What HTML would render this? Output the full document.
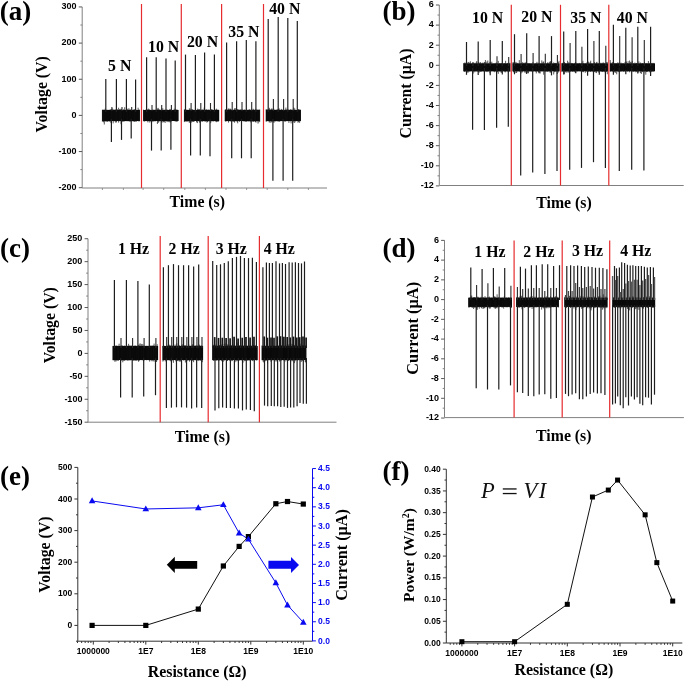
<!DOCTYPE html>
<html><head><meta charset="utf-8"><style>
html,body{margin:0;padding:0;background:#fff;}
body{width:685px;height:681px;overflow:hidden;font-family:"Liberation Sans", sans-serif;}
svg{display:block;will-change:transform;}
</style></head><body>
<svg width="685" height="681" viewBox="0 0 685 681">
<rect width="685" height="681" fill="#fff"/>
<line x1="82.20" y1="6.95" x2="82.20" y2="188.00" stroke="#808080" stroke-width="1" />
<line x1="78.80" y1="6.95" x2="82.20" y2="6.95" stroke="#5a5a5a" stroke-width="1" />
<text x="76.60" y="9.25" font-family="&quot;Liberation Sans&quot;, sans-serif" font-size="9" font-weight="bold" text-anchor="end" fill="#000" >300</text>
<line x1="78.80" y1="43.10" x2="82.20" y2="43.10" stroke="#5a5a5a" stroke-width="1" />
<text x="76.60" y="45.40" font-family="&quot;Liberation Sans&quot;, sans-serif" font-size="9" font-weight="bold" text-anchor="end" fill="#000" >200</text>
<line x1="78.80" y1="79.25" x2="82.20" y2="79.25" stroke="#5a5a5a" stroke-width="1" />
<text x="76.60" y="81.55" font-family="&quot;Liberation Sans&quot;, sans-serif" font-size="9" font-weight="bold" text-anchor="end" fill="#000" >100</text>
<line x1="78.80" y1="115.40" x2="82.20" y2="115.40" stroke="#5a5a5a" stroke-width="1" />
<text x="76.60" y="117.70" font-family="&quot;Liberation Sans&quot;, sans-serif" font-size="9" font-weight="bold" text-anchor="end" fill="#000" >0</text>
<line x1="78.80" y1="151.55" x2="82.20" y2="151.55" stroke="#5a5a5a" stroke-width="1" />
<text x="76.60" y="153.85" font-family="&quot;Liberation Sans&quot;, sans-serif" font-size="9" font-weight="bold" text-anchor="end" fill="#000" >-100</text>
<line x1="78.80" y1="187.70" x2="82.20" y2="187.70" stroke="#5a5a5a" stroke-width="1" />
<text x="76.60" y="190.00" font-family="&quot;Liberation Sans&quot;, sans-serif" font-size="9" font-weight="bold" text-anchor="end" fill="#000" >-200</text>
<line x1="80.40" y1="25.03" x2="82.20" y2="25.03" stroke="#808080" stroke-width="1" />
<line x1="80.40" y1="61.18" x2="82.20" y2="61.18" stroke="#808080" stroke-width="1" />
<line x1="80.40" y1="97.33" x2="82.20" y2="97.33" stroke="#808080" stroke-width="1" />
<line x1="80.40" y1="133.47" x2="82.20" y2="133.47" stroke="#808080" stroke-width="1" />
<line x1="80.40" y1="169.62" x2="82.20" y2="169.62" stroke="#808080" stroke-width="1" />
<line x1="82.20" y1="188.00" x2="327.00" y2="188.00" stroke="#808080" stroke-width="1" />
<line x1="102.40" y1="188.00" x2="102.40" y2="190.00" stroke="#808080" stroke-width="0.8" />
<line x1="123.40" y1="188.00" x2="123.40" y2="190.00" stroke="#808080" stroke-width="0.8" />
<line x1="143.10" y1="188.00" x2="143.10" y2="190.00" stroke="#808080" stroke-width="0.8" />
<line x1="163.70" y1="188.00" x2="163.70" y2="190.00" stroke="#808080" stroke-width="0.8" />
<line x1="184.80" y1="188.00" x2="184.80" y2="190.00" stroke="#808080" stroke-width="0.8" />
<line x1="205.40" y1="188.00" x2="205.40" y2="190.00" stroke="#808080" stroke-width="0.8" />
<line x1="226.00" y1="188.00" x2="226.00" y2="190.00" stroke="#808080" stroke-width="0.8" />
<line x1="246.60" y1="188.00" x2="246.60" y2="190.00" stroke="#808080" stroke-width="0.8" />
<line x1="267.20" y1="188.00" x2="267.20" y2="190.00" stroke="#808080" stroke-width="0.8" />
<line x1="287.80" y1="188.00" x2="287.80" y2="190.00" stroke="#808080" stroke-width="0.8" />
<line x1="308.40" y1="188.00" x2="308.40" y2="190.00" stroke="#808080" stroke-width="0.8" />
<rect x="102.10" y="110.00" width="37.80" height="11.00" fill="#000" />
<path d="M102.4,109.8V121.6M103.1,109.4V121.7M103.7,110.0V122.3M104.3,109.8V124.5M105.1,108.7V121.5M106.0,109.9V121.7M107.0,109.5V121.9M107.9,110.0V122.0M108.8,109.7V121.0M109.8,109.6V121.9M110.8,109.1V122.8M111.5,108.9V121.4M112.6,108.5V121.1M113.2,109.8V123.4M113.9,109.3V121.3M114.8,109.7V121.3M115.6,109.4V122.6M116.5,108.1V122.4M117.6,109.2V121.1M118.6,107.7V122.6M119.5,109.1V121.2M120.5,109.4V121.2M121.0,108.7V124.2M121.6,108.9V121.4M122.1,109.8V122.0M123.2,110.0V121.7M123.7,109.1V121.3M124.7,107.2V121.5M125.8,109.7V121.1M126.7,110.0V121.2M127.4,109.3V121.1M128.0,108.6V121.3M129.0,108.4V121.3M129.8,109.5V121.7M130.7,109.4V121.7M131.7,109.5V121.4M132.7,109.8V121.3M133.7,109.5V121.6M134.3,109.6V121.6M134.8,109.3V121.7M135.3,109.3V121.4M136.2,109.7V121.9M137.2,110.0V121.0M138.1,107.7V121.2M138.8,109.4V121.3M139.6,109.7V121.3" stroke="#111" stroke-width="0.7" fill="none"/>
<line x1="105.80" y1="79.00" x2="105.80" y2="112.00" stroke="#1e1e1e" stroke-width="1.2" />
<line x1="116.40" y1="79.00" x2="116.40" y2="112.00" stroke="#1e1e1e" stroke-width="1.2" />
<line x1="126.40" y1="79.00" x2="126.40" y2="112.00" stroke="#1e1e1e" stroke-width="1.2" />
<line x1="135.60" y1="79.50" x2="135.60" y2="112.00" stroke="#1e1e1e" stroke-width="1.2" />
<line x1="111.40" y1="119.00" x2="111.40" y2="142.10" stroke="#1e1e1e" stroke-width="1.2" />
<line x1="111.90" y1="107.00" x2="111.90" y2="111.00" stroke="#2a2a2a" stroke-width="1.1" />
<line x1="121.50" y1="119.00" x2="121.50" y2="139.90" stroke="#1e1e1e" stroke-width="1.2" />
<line x1="122.00" y1="107.00" x2="122.00" y2="111.00" stroke="#2a2a2a" stroke-width="1.1" />
<line x1="131.20" y1="119.00" x2="131.20" y2="138.50" stroke="#1e1e1e" stroke-width="1.2" />
<line x1="131.70" y1="107.00" x2="131.70" y2="111.00" stroke="#2a2a2a" stroke-width="1.1" />
<rect x="143.20" y="110.00" width="35.30" height="11.00" fill="#000" />
<path d="M143.5,109.7V121.3M144.5,110.0V121.6M145.4,109.7V121.2M146.4,109.8V121.1M147.1,109.2V121.1M147.8,109.7V122.3M148.6,108.6V121.1M149.3,109.3V122.5M150.1,109.8V121.1M150.9,109.9V122.2M151.9,109.9V121.2M152.9,109.3V122.1M153.6,109.9V121.2M154.6,109.8V121.3M155.3,109.6V121.4M156.4,109.9V121.0M157.4,108.5V124.0M158.2,107.9V122.8M158.8,109.0V122.3M159.7,109.5V121.2M160.4,109.8V121.0M161.3,109.8V122.2M161.8,108.4V121.8M162.9,108.4V122.6M163.7,110.0V122.0M164.3,109.8V121.8M165.1,109.6V123.0M166.0,109.7V121.2M167.0,109.5V122.1M167.7,109.8V121.5M168.7,109.9V122.1M169.8,108.9V122.2M170.3,109.3V122.4M170.8,109.8V121.2M171.6,109.6V121.4M172.6,110.0V121.0M173.2,109.9V121.0M174.2,108.7V121.1M175.0,109.7V121.3M175.8,109.3V121.6M176.5,109.9V121.3M177.0,109.4V121.9M177.8,109.9V121.1" stroke="#111" stroke-width="0.7" fill="none"/>
<line x1="146.60" y1="57.30" x2="146.60" y2="112.00" stroke="#1e1e1e" stroke-width="1.2" />
<line x1="156.20" y1="57.30" x2="156.20" y2="112.00" stroke="#1e1e1e" stroke-width="1.2" />
<line x1="166.00" y1="58.40" x2="166.00" y2="112.00" stroke="#1e1e1e" stroke-width="1.2" />
<line x1="175.20" y1="60.60" x2="175.20" y2="112.00" stroke="#1e1e1e" stroke-width="1.2" />
<line x1="151.50" y1="119.00" x2="151.50" y2="150.60" stroke="#1e1e1e" stroke-width="1.2" />
<line x1="152.00" y1="105.00" x2="152.00" y2="111.00" stroke="#2a2a2a" stroke-width="1.1" />
<line x1="161.20" y1="119.00" x2="161.20" y2="150.60" stroke="#1e1e1e" stroke-width="1.2" />
<line x1="161.70" y1="105.00" x2="161.70" y2="111.00" stroke="#2a2a2a" stroke-width="1.1" />
<line x1="170.90" y1="119.00" x2="170.90" y2="149.80" stroke="#1e1e1e" stroke-width="1.2" />
<line x1="171.40" y1="105.00" x2="171.40" y2="111.00" stroke="#2a2a2a" stroke-width="1.1" />
<rect x="184.10" y="110.00" width="35.10" height="11.00" fill="#000" />
<path d="M184.4,109.4V122.1M185.1,108.9V121.7M185.9,109.7V121.5M186.8,109.6V121.8M187.6,109.8V121.5M188.5,109.9V121.4M189.3,108.5V122.9M190.0,108.4V122.1M190.6,109.6V121.1M191.6,109.2V122.5M192.6,109.2V121.9M193.4,109.9V121.6M193.9,109.9V122.0M194.5,109.9V121.1M195.5,109.9V121.0M196.5,109.9V122.3M197.4,108.7V123.1M198.3,108.9V121.0M199.2,109.5V121.9M199.8,109.0V122.9M200.3,109.7V121.6M201.3,109.8V121.1M202.0,109.3V122.0M202.7,109.7V121.4M203.4,109.6V121.1M204.2,107.5V121.4M205.2,109.9V121.8M206.1,109.2V121.5M206.9,109.3V122.6M207.5,109.9V122.0M208.5,109.5V121.4M209.5,109.9V121.2M210.1,109.4V121.3M210.7,109.2V123.1M211.4,109.1V121.4M212.4,109.4V121.2M213.1,110.0V121.5M213.8,109.9V121.3M214.5,109.0V121.1M215.6,109.5V121.6M216.4,108.7V122.2M217.2,109.5V121.9M218.2,109.6V121.9" stroke="#111" stroke-width="0.7" fill="none"/>
<line x1="185.50" y1="54.60" x2="185.50" y2="112.00" stroke="#1e1e1e" stroke-width="1.2" />
<line x1="195.40" y1="55.10" x2="195.40" y2="112.00" stroke="#1e1e1e" stroke-width="1.2" />
<line x1="204.60" y1="52.60" x2="204.60" y2="112.00" stroke="#1e1e1e" stroke-width="1.2" />
<line x1="214.40" y1="54.60" x2="214.40" y2="112.00" stroke="#1e1e1e" stroke-width="1.2" />
<line x1="190.60" y1="119.00" x2="190.60" y2="155.40" stroke="#1e1e1e" stroke-width="1.2" />
<line x1="191.10" y1="103.00" x2="191.10" y2="111.00" stroke="#2a2a2a" stroke-width="1.1" />
<line x1="200.30" y1="119.00" x2="200.30" y2="155.40" stroke="#1e1e1e" stroke-width="1.2" />
<line x1="200.80" y1="103.00" x2="200.80" y2="111.00" stroke="#2a2a2a" stroke-width="1.1" />
<line x1="210.00" y1="119.00" x2="210.00" y2="156.20" stroke="#1e1e1e" stroke-width="1.2" />
<line x1="210.50" y1="103.00" x2="210.50" y2="111.00" stroke="#2a2a2a" stroke-width="1.1" />
<rect x="224.90" y="110.00" width="35.00" height="11.00" fill="#000" />
<path d="M225.2,109.6V121.2M225.8,109.1V121.8M226.9,108.7V121.2M227.5,109.8V121.1M228.5,108.6V122.6M229.1,108.6V121.3M229.9,109.1V121.1M230.4,108.7V121.2M231.1,109.4V121.8M231.6,109.7V121.4M232.4,109.8V121.6M233.5,109.7V121.6M234.1,109.8V121.8M234.6,108.5V122.7M235.2,108.0V121.3M236.2,109.0V121.2M237.1,109.3V122.1M237.7,109.0V123.3M238.6,109.5V121.1M239.4,109.7V121.9M240.3,109.4V121.1M241.2,109.3V121.1M242.3,109.3V121.1M243.3,109.9V121.3M244.2,109.4V121.6M245.1,109.6V121.3M245.7,110.0V121.9M246.7,109.5V121.9M247.4,109.8V121.3M248.4,110.0V121.5M249.1,109.0V121.3M249.8,109.6V121.5M250.7,109.7V122.3M251.3,109.8V121.1M251.9,108.9V121.9M252.5,109.9V121.4M253.4,108.8V122.0M254.3,109.9V121.4M254.9,109.5V121.6M255.5,109.8V122.1M256.0,108.9V122.6M257.1,109.7V121.6M258.0,109.3V123.6M258.9,109.8V122.4M259.7,109.4V121.9" stroke="#111" stroke-width="0.7" fill="none"/>
<line x1="226.60" y1="42.40" x2="226.60" y2="112.00" stroke="#1e1e1e" stroke-width="1.2" />
<line x1="236.60" y1="41.20" x2="236.60" y2="112.00" stroke="#1e1e1e" stroke-width="1.2" />
<line x1="246.30" y1="39.90" x2="246.30" y2="112.00" stroke="#1e1e1e" stroke-width="1.2" />
<line x1="255.90" y1="41.20" x2="255.90" y2="112.00" stroke="#1e1e1e" stroke-width="1.2" />
<line x1="231.70" y1="119.00" x2="231.70" y2="158.30" stroke="#1e1e1e" stroke-width="1.2" />
<line x1="232.20" y1="102.00" x2="232.20" y2="111.00" stroke="#2a2a2a" stroke-width="1.1" />
<line x1="241.50" y1="119.00" x2="241.50" y2="158.30" stroke="#1e1e1e" stroke-width="1.2" />
<line x1="242.00" y1="102.00" x2="242.00" y2="111.00" stroke="#2a2a2a" stroke-width="1.1" />
<line x1="251.20" y1="119.00" x2="251.20" y2="158.30" stroke="#1e1e1e" stroke-width="1.2" />
<line x1="251.70" y1="102.00" x2="251.70" y2="111.00" stroke="#2a2a2a" stroke-width="1.1" />
<rect x="265.90" y="110.00" width="35.00" height="11.00" fill="#000" />
<path d="M266.2,109.0V121.8M267.0,109.5V121.4M267.6,109.5V121.0M268.4,109.3V121.4M269.3,107.8V122.6M269.8,108.9V121.7M270.4,109.7V121.2M270.9,109.5V122.9M271.6,108.6V121.8M272.2,108.6V121.6M273.2,109.1V121.9M273.9,108.8V122.9M275.0,109.6V122.0M275.8,109.9V121.0M276.3,109.8V121.1M277.1,109.2V121.5M277.9,109.3V121.3M278.6,109.0V121.4M279.2,108.4V121.9M280.0,109.7V121.5M280.8,109.8V121.0M281.4,108.9V121.1M282.2,109.8V121.2M282.8,109.6V121.1M283.3,109.9V121.1M284.1,110.0V121.0M284.9,109.6V121.9M285.4,109.6V121.4M285.9,107.6V121.2M286.5,109.5V121.1M287.4,109.7V121.1M287.9,109.1V121.2M288.9,109.6V122.9M289.6,109.8V121.2M290.6,109.3V121.3M291.1,109.2V123.4M292.0,110.0V121.0M292.5,109.9V121.0M293.0,109.3V122.6M293.7,107.4V121.5M294.7,108.3V123.0M295.2,109.7V121.7M296.2,109.9V121.2M297.2,109.9V121.3M298.0,109.2V122.8M298.6,109.1V121.9M299.6,109.4V122.8M300.3,109.6V121.2" stroke="#111" stroke-width="0.7" fill="none"/>
<line x1="268.20" y1="18.90" x2="268.20" y2="112.00" stroke="#1e1e1e" stroke-width="1.2" />
<line x1="278.20" y1="17.00" x2="278.20" y2="112.00" stroke="#1e1e1e" stroke-width="1.2" />
<line x1="287.80" y1="18.00" x2="287.80" y2="112.00" stroke="#1e1e1e" stroke-width="1.2" />
<line x1="297.30" y1="21.00" x2="297.30" y2="112.00" stroke="#1e1e1e" stroke-width="1.2" />
<line x1="272.90" y1="119.00" x2="272.90" y2="180.70" stroke="#1e1e1e" stroke-width="1.2" />
<line x1="273.40" y1="99.00" x2="273.40" y2="111.00" stroke="#2a2a2a" stroke-width="1.1" />
<line x1="283.10" y1="119.00" x2="283.10" y2="180.70" stroke="#1e1e1e" stroke-width="1.2" />
<line x1="283.60" y1="99.00" x2="283.60" y2="111.00" stroke="#2a2a2a" stroke-width="1.1" />
<line x1="292.70" y1="119.00" x2="292.70" y2="180.70" stroke="#1e1e1e" stroke-width="1.2" />
<line x1="293.20" y1="99.00" x2="293.20" y2="111.00" stroke="#2a2a2a" stroke-width="1.1" />
<line x1="141.50" y1="4.00" x2="141.50" y2="188.00" stroke="#e62c2e" stroke-width="1.2" />
<line x1="181.30" y1="4.00" x2="181.30" y2="188.00" stroke="#e62c2e" stroke-width="1.2" />
<line x1="221.60" y1="4.00" x2="221.60" y2="188.00" stroke="#e62c2e" stroke-width="1.2" />
<line x1="263.50" y1="4.00" x2="263.50" y2="188.00" stroke="#e62c2e" stroke-width="1.2" />
<text x="119.75" y="71.00" font-family="&quot;Liberation Serif&quot;, serif" font-size="15.8" font-weight="bold" text-anchor="middle" fill="#000" >5 N</text>
<text x="163.65" y="52.10" font-family="&quot;Liberation Serif&quot;, serif" font-size="15.8" font-weight="bold" text-anchor="middle" fill="#000" >10 N</text>
<text x="202.55" y="47.30" font-family="&quot;Liberation Serif&quot;, serif" font-size="15.8" font-weight="bold" text-anchor="middle" fill="#000" >20 N</text>
<text x="243.85" y="37.10" font-family="&quot;Liberation Serif&quot;, serif" font-size="15.8" font-weight="bold" text-anchor="middle" fill="#000" >35 N</text>
<text x="284.80" y="14.40" font-family="&quot;Liberation Serif&quot;, serif" font-size="15.8" font-weight="bold" text-anchor="middle" fill="#000" >40 N</text>
<text x="197.30" y="206.60" font-family="&quot;Liberation Serif&quot;, serif" font-size="15.8" font-weight="bold" text-anchor="middle" fill="#000" >Time (s)</text>
<text x="46.60" y="94.30" font-family="&quot;Liberation Serif&quot;, serif" font-size="15.8" font-weight="bold" text-anchor="middle" fill="#000" transform="rotate(-90 46.60 94.30)" >Voltage (V)</text>
<text x="-0.30" y="19.50" font-family="&quot;Liberation Serif&quot;, serif" font-size="27" font-weight="bold" text-anchor="start" fill="#000" >(a)</text>
<line x1="439.30" y1="5.00" x2="439.30" y2="185.50" stroke="#808080" stroke-width="1" />
<line x1="435.90" y1="5.00" x2="439.30" y2="5.00" stroke="#5a5a5a" stroke-width="1" />
<text x="433.70" y="7.30" font-family="&quot;Liberation Sans&quot;, sans-serif" font-size="9" font-weight="bold" text-anchor="end" fill="#000" >6</text>
<line x1="435.90" y1="25.10" x2="439.30" y2="25.10" stroke="#5a5a5a" stroke-width="1" />
<text x="433.70" y="27.40" font-family="&quot;Liberation Sans&quot;, sans-serif" font-size="9" font-weight="bold" text-anchor="end" fill="#000" >4</text>
<line x1="435.90" y1="45.20" x2="439.30" y2="45.20" stroke="#5a5a5a" stroke-width="1" />
<text x="433.70" y="47.50" font-family="&quot;Liberation Sans&quot;, sans-serif" font-size="9" font-weight="bold" text-anchor="end" fill="#000" >2</text>
<line x1="435.90" y1="65.30" x2="439.30" y2="65.30" stroke="#5a5a5a" stroke-width="1" />
<text x="433.70" y="67.60" font-family="&quot;Liberation Sans&quot;, sans-serif" font-size="9" font-weight="bold" text-anchor="end" fill="#000" >0</text>
<line x1="435.90" y1="85.40" x2="439.30" y2="85.40" stroke="#5a5a5a" stroke-width="1" />
<text x="433.70" y="87.70" font-family="&quot;Liberation Sans&quot;, sans-serif" font-size="9" font-weight="bold" text-anchor="end" fill="#000" >-2</text>
<line x1="435.90" y1="105.50" x2="439.30" y2="105.50" stroke="#5a5a5a" stroke-width="1" />
<text x="433.70" y="107.80" font-family="&quot;Liberation Sans&quot;, sans-serif" font-size="9" font-weight="bold" text-anchor="end" fill="#000" >-4</text>
<line x1="435.90" y1="125.60" x2="439.30" y2="125.60" stroke="#5a5a5a" stroke-width="1" />
<text x="433.70" y="127.90" font-family="&quot;Liberation Sans&quot;, sans-serif" font-size="9" font-weight="bold" text-anchor="end" fill="#000" >-6</text>
<line x1="435.90" y1="145.70" x2="439.30" y2="145.70" stroke="#5a5a5a" stroke-width="1" />
<text x="433.70" y="148.00" font-family="&quot;Liberation Sans&quot;, sans-serif" font-size="9" font-weight="bold" text-anchor="end" fill="#000" >-8</text>
<line x1="435.90" y1="165.80" x2="439.30" y2="165.80" stroke="#5a5a5a" stroke-width="1" />
<text x="433.70" y="168.10" font-family="&quot;Liberation Sans&quot;, sans-serif" font-size="9" font-weight="bold" text-anchor="end" fill="#000" >-10</text>
<line x1="435.90" y1="185.90" x2="439.30" y2="185.90" stroke="#5a5a5a" stroke-width="1" />
<text x="433.70" y="188.20" font-family="&quot;Liberation Sans&quot;, sans-serif" font-size="9" font-weight="bold" text-anchor="end" fill="#000" >-12</text>
<line x1="437.50" y1="15.05" x2="439.30" y2="15.05" stroke="#808080" stroke-width="1" />
<line x1="437.50" y1="35.15" x2="439.30" y2="35.15" stroke="#808080" stroke-width="1" />
<line x1="437.50" y1="55.25" x2="439.30" y2="55.25" stroke="#808080" stroke-width="1" />
<line x1="437.50" y1="75.35" x2="439.30" y2="75.35" stroke="#808080" stroke-width="1" />
<line x1="437.50" y1="95.45" x2="439.30" y2="95.45" stroke="#808080" stroke-width="1" />
<line x1="437.50" y1="115.55" x2="439.30" y2="115.55" stroke="#808080" stroke-width="1" />
<line x1="437.50" y1="135.65" x2="439.30" y2="135.65" stroke="#808080" stroke-width="1" />
<line x1="437.50" y1="155.75" x2="439.30" y2="155.75" stroke="#808080" stroke-width="1" />
<line x1="437.50" y1="175.85" x2="439.30" y2="175.85" stroke="#808080" stroke-width="1" />
<line x1="439.30" y1="185.50" x2="683.70" y2="185.50" stroke="#808080" stroke-width="1" />
<rect x="463.50" y="63.50" width="46.80" height="7.70" fill="#000" />
<path d="M463.8,63.0V71.4M464.4,62.6V71.9M465.3,63.2V71.7M465.9,62.6V71.2M466.7,62.5V72.0M467.3,63.3V72.5M468.1,62.0V72.6M468.9,61.9V72.1M469.6,63.2V71.3M470.4,61.3V71.3M471.2,63.4V71.3M472.1,63.3V71.2M472.7,62.8V71.8M473.2,63.3V73.6M473.8,62.9V71.6M474.8,62.9V72.3M475.6,63.4V71.3M476.2,62.3V71.3M476.7,61.1V71.4M477.7,63.4V71.6M478.3,62.3V71.9M479.2,62.5V72.6M479.9,62.9V71.6M480.5,62.2V71.8M481.5,63.3V71.7M482.3,62.6V71.3M483.0,63.0V71.3M483.8,62.6V71.6M484.7,62.8V71.4M485.4,60.0V71.5M486.2,63.4V71.4M486.8,61.6V72.1M487.8,60.5V71.9M488.8,63.0V71.6M489.9,61.9V73.3M490.7,62.5V71.6M491.8,61.7V71.4M492.9,63.4V71.3M493.8,63.3V71.7M494.7,63.5V72.2M495.3,63.1V71.5M496.3,62.5V71.4M496.9,63.3V71.6M497.4,63.4V72.2M498.3,60.9V73.9M499.3,63.2V71.3M500.0,63.1V71.7M500.9,63.2V72.5M501.5,63.1V72.7M502.5,63.3V71.4M503.5,63.5V71.3M504.3,63.0V71.3M504.8,63.3V72.2M505.6,60.8V72.3M506.7,63.5V71.3M507.2,63.1V71.5M507.8,62.9V71.3M508.4,63.3V72.3M509.2,63.3V71.2M509.9,62.8V72.0" stroke="#111" stroke-width="0.7" fill="none"/>
<rect x="512.60" y="63.50" width="46.90" height="7.70" fill="#000" />
<path d="M512.9,62.3V71.4M513.5,62.5V72.3M514.3,62.3V71.8M515.0,63.4V71.2M515.8,61.9V72.9M516.6,62.7V73.0M517.6,62.9V71.6M518.4,63.4V71.3M519.3,60.1V71.8M520.1,63.2V71.6M521.1,63.1V73.4M521.7,63.2V71.7M522.4,62.2V72.4M523.5,62.8V71.2M524.3,62.9V71.7M525.0,62.6V72.9M525.5,62.7V71.5M526.3,61.9V73.5M527.2,63.3V73.0M527.8,63.2V72.4M528.5,63.3V73.3M529.6,63.2V71.5M530.3,63.4V71.4M531.3,63.4V71.4M532.0,63.4V71.7M532.9,62.2V71.9M533.9,63.5V71.4M535.0,63.4V71.4M535.8,63.3V71.8M536.3,63.3V73.4M536.9,61.8V71.3M538.0,62.7V71.9M538.6,63.5V72.2M539.2,63.4V72.4M540.2,63.5V73.5M541.0,63.2V71.3M541.8,60.4V71.4M542.3,63.4V71.3M543.0,61.8V71.3M543.7,61.5V74.7M544.7,63.3V71.5M545.8,63.0V72.1M546.5,63.5V71.5M547.5,62.4V71.8M548.2,63.0V71.6M549.1,62.2V71.4M549.9,61.6V72.5M550.5,61.2V72.5M551.1,63.3V71.4M551.6,60.8V71.6M552.7,63.4V71.2M553.7,62.4V74.5M554.6,63.0V72.2M555.2,63.0V71.6M555.7,62.9V71.5M556.6,63.2V71.5M557.3,62.9V74.0M558.3,62.1V72.5M559.0,60.9V71.4" stroke="#111" stroke-width="0.7" fill="none"/>
<rect x="561.60" y="63.50" width="46.30" height="7.70" fill="#000" />
<path d="M561.9,63.0V72.1M562.6,62.8V71.4M563.7,63.1V71.7M564.5,62.0V74.2M565.3,63.1V71.9M565.9,63.1V72.5M566.8,63.5V72.5M567.6,60.7V71.5M568.2,62.9V72.7M568.9,62.1V72.1M569.7,63.2V71.7M570.4,63.2V71.9M571.4,62.9V71.3M572.1,63.2V71.9M572.6,63.4V71.5M573.3,63.5V71.7M574.4,63.0V72.1M575.4,62.2V72.9M576.1,62.7V71.3M577.2,63.2V71.7M578.2,63.3V71.3M579.2,62.9V71.3M579.7,63.2V71.2M580.7,63.4V71.4M581.4,63.0V71.6M582.3,62.7V71.6M582.9,60.8V72.0M583.4,63.1V72.2M584.5,63.5V71.2M585.3,63.1V72.8M586.3,63.2V71.6M587.1,62.0V71.4M587.9,63.4V71.9M588.4,61.6V71.7M589.2,63.4V71.4M590.0,62.1V71.7M590.7,60.7V72.0M591.5,63.3V71.4M592.6,63.4V71.7M593.4,63.2V72.2M594.5,62.1V72.1M595.1,63.5V71.6M595.8,63.3V72.6M596.4,62.3V73.1M597.0,61.8V71.6M597.6,63.4V71.2M598.4,63.2V72.5M599.4,63.5V71.6M600.1,63.4V71.4M600.8,62.7V71.5M601.4,63.3V71.6M602.2,63.3V72.0M602.8,62.7V71.9M603.4,62.5V71.6M604.3,62.9V71.9M605.0,63.5V72.3M606.0,63.0V71.8M606.7,61.9V72.0M607.3,62.3V74.2" stroke="#111" stroke-width="0.7" fill="none"/>
<rect x="609.90" y="63.50" width="45.10" height="7.70" fill="#000" />
<path d="M610.2,60.0V71.7M610.8,62.6V71.5M611.7,62.9V71.3M612.6,62.2V71.7M613.4,62.1V71.6M614.2,62.9V72.4M614.8,63.4V72.2M615.6,63.2V72.8M616.7,63.0V74.3M617.7,62.5V71.4M618.2,62.7V72.1M618.9,63.0V71.8M619.5,62.7V71.8M620.3,63.4V71.8M621.0,62.6V71.3M621.7,63.3V71.6M622.5,63.4V71.2M623.3,63.3V71.7M623.9,63.4V71.7M625.0,62.1V71.7M625.7,63.5V71.4M626.4,61.5V71.3M627.5,63.0V71.6M628.1,61.2V71.3M629.0,63.0V71.4M629.6,60.5V72.3M630.6,61.9V71.3M631.5,62.5V71.4M632.3,60.9V71.5M633.2,63.4V72.0M633.9,63.0V71.5M634.9,62.5V71.7M635.8,63.1V72.3M636.5,63.0V71.8M637.2,63.5V71.3M638.1,63.3V72.2M638.9,61.4V72.5M639.8,63.2V71.2M640.6,62.5V73.0M641.3,63.4V74.0M642.2,63.0V72.1M642.8,63.0V72.0M643.7,63.4V71.3M644.5,62.0V71.3M645.0,63.4V72.3M645.8,63.1V74.7M646.6,63.3V72.0M647.1,63.3V72.0M647.8,63.5V71.7M648.4,61.0V71.3M649.4,63.2V72.3M650.2,62.7V71.5M650.8,63.1V72.3M651.5,63.3V71.6M652.1,63.2V71.8M652.9,62.9V71.4M653.4,63.5V71.5M654.1,62.9V71.4" stroke="#111" stroke-width="0.7" fill="none"/>
<line x1="466.50" y1="42.00" x2="466.50" y2="66.00" stroke="#1e1e1e" stroke-width="1.2" />
<line x1="466.50" y1="70.00" x2="466.50" y2="74.80" stroke="#1e1e1e" stroke-width="1.2" />
<line x1="478.20" y1="41.60" x2="478.20" y2="66.00" stroke="#1e1e1e" stroke-width="1.2" />
<line x1="478.20" y1="70.00" x2="478.20" y2="74.99" stroke="#1e1e1e" stroke-width="1.2" />
<line x1="490.20" y1="40.10" x2="490.20" y2="66.00" stroke="#1e1e1e" stroke-width="1.2" />
<line x1="490.20" y1="70.00" x2="490.20" y2="75.21" stroke="#1e1e1e" stroke-width="1.2" />
<line x1="502.30" y1="41.10" x2="502.30" y2="66.00" stroke="#1e1e1e" stroke-width="1.2" />
<line x1="502.30" y1="70.00" x2="502.30" y2="74.56" stroke="#1e1e1e" stroke-width="1.2" />
<line x1="514.50" y1="34.20" x2="514.50" y2="66.00" stroke="#1e1e1e" stroke-width="1.2" />
<line x1="514.50" y1="70.00" x2="514.50" y2="74.28" stroke="#1e1e1e" stroke-width="1.2" />
<line x1="526.70" y1="33.20" x2="526.70" y2="66.00" stroke="#1e1e1e" stroke-width="1.2" />
<line x1="526.70" y1="70.00" x2="526.70" y2="73.93" stroke="#1e1e1e" stroke-width="1.2" />
<line x1="539.10" y1="36.10" x2="539.10" y2="66.00" stroke="#1e1e1e" stroke-width="1.2" />
<line x1="539.10" y1="70.00" x2="539.10" y2="73.19" stroke="#1e1e1e" stroke-width="1.2" />
<line x1="551.50" y1="36.10" x2="551.50" y2="66.00" stroke="#1e1e1e" stroke-width="1.2" />
<line x1="551.50" y1="70.00" x2="551.50" y2="75.38" stroke="#1e1e1e" stroke-width="1.2" />
<line x1="563.70" y1="31.50" x2="563.70" y2="66.00" stroke="#1e1e1e" stroke-width="1.2" />
<line x1="563.70" y1="70.00" x2="563.70" y2="74.50" stroke="#1e1e1e" stroke-width="1.2" />
<line x1="575.80" y1="30.90" x2="575.80" y2="66.00" stroke="#1e1e1e" stroke-width="1.2" />
<line x1="575.80" y1="70.00" x2="575.80" y2="73.30" stroke="#1e1e1e" stroke-width="1.2" />
<line x1="587.60" y1="29.00" x2="587.60" y2="66.00" stroke="#1e1e1e" stroke-width="1.2" />
<line x1="587.60" y1="70.00" x2="587.60" y2="75.78" stroke="#1e1e1e" stroke-width="1.2" />
<line x1="599.30" y1="30.90" x2="599.30" y2="66.00" stroke="#1e1e1e" stroke-width="1.2" />
<line x1="599.30" y1="70.00" x2="599.30" y2="74.75" stroke="#1e1e1e" stroke-width="1.2" />
<line x1="613.40" y1="24.80" x2="613.40" y2="66.00" stroke="#1e1e1e" stroke-width="1.2" />
<line x1="613.40" y1="70.00" x2="613.40" y2="74.87" stroke="#1e1e1e" stroke-width="1.2" />
<line x1="625.80" y1="27.70" x2="625.80" y2="66.00" stroke="#1e1e1e" stroke-width="1.2" />
<line x1="625.80" y1="70.00" x2="625.80" y2="74.32" stroke="#1e1e1e" stroke-width="1.2" />
<line x1="637.80" y1="26.70" x2="637.80" y2="66.00" stroke="#1e1e1e" stroke-width="1.2" />
<line x1="637.80" y1="70.00" x2="637.80" y2="73.38" stroke="#1e1e1e" stroke-width="1.2" />
<line x1="650.60" y1="26.70" x2="650.60" y2="66.00" stroke="#1e1e1e" stroke-width="1.2" />
<line x1="650.60" y1="70.00" x2="650.60" y2="76.00" stroke="#1e1e1e" stroke-width="1.2" />
<line x1="472.60" y1="68.00" x2="472.60" y2="129.70" stroke="#1e1e1e" stroke-width="1.2" />
<line x1="473.00" y1="62.00" x2="473.00" y2="66.00" stroke="#2a2a2a" stroke-width="1.1" />
<line x1="484.40" y1="68.00" x2="484.40" y2="130.10" stroke="#1e1e1e" stroke-width="1.2" />
<line x1="484.80" y1="62.00" x2="484.80" y2="66.00" stroke="#2a2a2a" stroke-width="1.1" />
<line x1="496.60" y1="68.00" x2="496.60" y2="127.80" stroke="#1e1e1e" stroke-width="1.2" />
<line x1="497.00" y1="56.30" x2="497.00" y2="66.00" stroke="#2a2a2a" stroke-width="1.1" />
<line x1="508.30" y1="68.00" x2="508.30" y2="126.70" stroke="#1e1e1e" stroke-width="1.2" />
<line x1="508.70" y1="57.00" x2="508.70" y2="66.00" stroke="#2a2a2a" stroke-width="1.1" />
<line x1="520.70" y1="68.00" x2="520.70" y2="175.50" stroke="#1e1e1e" stroke-width="1.2" />
<line x1="521.10" y1="54.00" x2="521.10" y2="66.00" stroke="#2a2a2a" stroke-width="1.1" />
<line x1="532.70" y1="68.00" x2="532.70" y2="172.50" stroke="#1e1e1e" stroke-width="1.2" />
<line x1="533.10" y1="52.90" x2="533.10" y2="66.00" stroke="#2a2a2a" stroke-width="1.1" />
<line x1="544.90" y1="68.00" x2="544.90" y2="174.00" stroke="#1e1e1e" stroke-width="1.2" />
<line x1="545.30" y1="53.80" x2="545.30" y2="66.00" stroke="#2a2a2a" stroke-width="1.1" />
<line x1="557.00" y1="68.00" x2="557.00" y2="171.10" stroke="#1e1e1e" stroke-width="1.2" />
<line x1="557.40" y1="55.00" x2="557.40" y2="66.00" stroke="#2a2a2a" stroke-width="1.1" />
<line x1="569.70" y1="68.00" x2="569.70" y2="169.80" stroke="#1e1e1e" stroke-width="1.2" />
<line x1="570.10" y1="43.00" x2="570.10" y2="66.00" stroke="#2a2a2a" stroke-width="1.1" />
<line x1="581.50" y1="68.00" x2="581.50" y2="167.90" stroke="#1e1e1e" stroke-width="1.2" />
<line x1="581.90" y1="46.80" x2="581.90" y2="66.00" stroke="#2a2a2a" stroke-width="1.1" />
<line x1="593.50" y1="68.00" x2="593.50" y2="162.20" stroke="#1e1e1e" stroke-width="1.2" />
<line x1="593.90" y1="41.00" x2="593.90" y2="66.00" stroke="#2a2a2a" stroke-width="1.1" />
<line x1="605.40" y1="68.00" x2="605.40" y2="167.90" stroke="#1e1e1e" stroke-width="1.2" />
<line x1="605.80" y1="45.80" x2="605.80" y2="66.00" stroke="#2a2a2a" stroke-width="1.1" />
<line x1="619.30" y1="68.00" x2="619.30" y2="171.10" stroke="#1e1e1e" stroke-width="1.2" />
<line x1="619.70" y1="35.90" x2="619.70" y2="66.00" stroke="#2a2a2a" stroke-width="1.1" />
<line x1="631.70" y1="68.00" x2="631.70" y2="169.80" stroke="#1e1e1e" stroke-width="1.2" />
<line x1="632.10" y1="37.20" x2="632.10" y2="66.00" stroke="#2a2a2a" stroke-width="1.1" />
<line x1="643.90" y1="68.00" x2="643.90" y2="170.60" stroke="#1e1e1e" stroke-width="1.2" />
<line x1="644.30" y1="40.10" x2="644.30" y2="66.00" stroke="#2a2a2a" stroke-width="1.1" />
<line x1="511.30" y1="4.80" x2="511.30" y2="185.50" stroke="#e62c2e" stroke-width="1.2" />
<line x1="560.50" y1="4.80" x2="560.50" y2="185.50" stroke="#e62c2e" stroke-width="1.2" />
<line x1="608.80" y1="4.80" x2="608.80" y2="185.50" stroke="#e62c2e" stroke-width="1.2" />
<text x="487.65" y="22.90" font-family="&quot;Liberation Serif&quot;, serif" font-size="15.8" font-weight="bold" text-anchor="middle" fill="#000" >10 N</text>
<text x="536.85" y="21.70" font-family="&quot;Liberation Serif&quot;, serif" font-size="15.8" font-weight="bold" text-anchor="middle" fill="#000" >20 N</text>
<text x="585.90" y="22.50" font-family="&quot;Liberation Serif&quot;, serif" font-size="15.8" font-weight="bold" text-anchor="middle" fill="#000" >35 N</text>
<text x="632.45" y="23.30" font-family="&quot;Liberation Serif&quot;, serif" font-size="15.8" font-weight="bold" text-anchor="middle" fill="#000" >40 N</text>
<text x="564.00" y="207.60" font-family="&quot;Liberation Serif&quot;, serif" font-size="15.8" font-weight="bold" text-anchor="middle" fill="#000" >Time (s)</text>
<text x="411.40" y="93.50" font-family="&quot;Liberation Serif&quot;, serif" font-size="15.8" font-weight="bold" text-anchor="middle" fill="#000" transform="rotate(-90 411.40 93.50)" >Current (&#181;A)</text>
<text x="382.60" y="19.80" font-family="&quot;Liberation Serif&quot;, serif" font-size="27" font-weight="bold" text-anchor="start" fill="#000" >(b)</text>
<line x1="88.00" y1="238.72" x2="88.00" y2="422.20" stroke="#808080" stroke-width="1" />
<line x1="84.60" y1="238.72" x2="88.00" y2="238.72" stroke="#5a5a5a" stroke-width="1" />
<text x="82.40" y="241.02" font-family="&quot;Liberation Sans&quot;, sans-serif" font-size="9" font-weight="bold" text-anchor="end" fill="#000" >250</text>
<line x1="84.60" y1="261.66" x2="88.00" y2="261.66" stroke="#5a5a5a" stroke-width="1" />
<text x="82.40" y="263.96" font-family="&quot;Liberation Sans&quot;, sans-serif" font-size="9" font-weight="bold" text-anchor="end" fill="#000" >200</text>
<line x1="84.60" y1="284.59" x2="88.00" y2="284.59" stroke="#5a5a5a" stroke-width="1" />
<text x="82.40" y="286.89" font-family="&quot;Liberation Sans&quot;, sans-serif" font-size="9" font-weight="bold" text-anchor="end" fill="#000" >150</text>
<line x1="84.60" y1="307.53" x2="88.00" y2="307.53" stroke="#5a5a5a" stroke-width="1" />
<text x="82.40" y="309.83" font-family="&quot;Liberation Sans&quot;, sans-serif" font-size="9" font-weight="bold" text-anchor="end" fill="#000" >100</text>
<line x1="84.60" y1="330.46" x2="88.00" y2="330.46" stroke="#5a5a5a" stroke-width="1" />
<text x="82.40" y="332.76" font-family="&quot;Liberation Sans&quot;, sans-serif" font-size="9" font-weight="bold" text-anchor="end" fill="#000" >50</text>
<line x1="84.60" y1="353.40" x2="88.00" y2="353.40" stroke="#5a5a5a" stroke-width="1" />
<text x="82.40" y="355.70" font-family="&quot;Liberation Sans&quot;, sans-serif" font-size="9" font-weight="bold" text-anchor="end" fill="#000" >0</text>
<line x1="84.60" y1="376.33" x2="88.00" y2="376.33" stroke="#5a5a5a" stroke-width="1" />
<text x="82.40" y="378.63" font-family="&quot;Liberation Sans&quot;, sans-serif" font-size="9" font-weight="bold" text-anchor="end" fill="#000" >-50</text>
<line x1="84.60" y1="399.27" x2="88.00" y2="399.27" stroke="#5a5a5a" stroke-width="1" />
<text x="82.40" y="401.57" font-family="&quot;Liberation Sans&quot;, sans-serif" font-size="9" font-weight="bold" text-anchor="end" fill="#000" >-100</text>
<line x1="84.60" y1="422.20" x2="88.00" y2="422.20" stroke="#5a5a5a" stroke-width="1" />
<text x="82.40" y="424.50" font-family="&quot;Liberation Sans&quot;, sans-serif" font-size="9" font-weight="bold" text-anchor="end" fill="#000" >-150</text>
<line x1="86.20" y1="250.19" x2="88.00" y2="250.19" stroke="#808080" stroke-width="1" />
<line x1="86.20" y1="273.13" x2="88.00" y2="273.13" stroke="#808080" stroke-width="1" />
<line x1="86.20" y1="296.06" x2="88.00" y2="296.06" stroke="#808080" stroke-width="1" />
<line x1="86.20" y1="319.00" x2="88.00" y2="319.00" stroke="#808080" stroke-width="1" />
<line x1="86.20" y1="341.93" x2="88.00" y2="341.93" stroke="#808080" stroke-width="1" />
<line x1="86.20" y1="364.87" x2="88.00" y2="364.87" stroke="#808080" stroke-width="1" />
<line x1="86.20" y1="387.80" x2="88.00" y2="387.80" stroke="#808080" stroke-width="1" />
<line x1="86.20" y1="410.74" x2="88.00" y2="410.74" stroke="#808080" stroke-width="1" />
<line x1="88.00" y1="422.20" x2="336.50" y2="422.20" stroke="#808080" stroke-width="1" />
<rect x="112.70" y="346.00" width="45.40" height="14.00" fill="#000" />
<path d="M113.0,345.9V360.3M114.1,345.9V360.5M114.9,345.8V361.8M115.6,346.0V360.4M116.1,345.1V361.4M117.2,346.0V360.8M117.9,345.6V360.3M118.5,345.9V360.7M119.1,343.7V360.0M120.2,345.9V360.1M121.1,345.5V361.0M121.9,345.3V360.1M122.8,345.5V362.3M123.3,346.0V360.8M124.4,345.6V360.9M125.2,345.7V360.4M126.1,346.0V360.3M127.0,345.8V360.4M127.7,345.7V360.7M128.6,343.8V360.5M129.3,345.7V360.0M129.9,345.4V360.7M130.5,345.9V360.1M131.2,345.5V360.2M132.2,345.4V360.3M132.9,346.0V360.9M133.9,345.7V360.9M134.6,345.8V360.2M135.2,345.3V360.7M136.1,345.9V361.0M136.9,345.7V360.5M137.7,345.8V360.4M138.5,345.1V361.7M139.2,344.4V361.1M140.1,343.3V360.1M141.1,344.4V360.1M141.9,343.9V360.2M142.9,344.3V360.4M143.5,345.8V361.2M144.3,345.7V360.4M145.3,345.8V360.0M146.4,345.7V360.3M147.5,345.8V360.1M148.5,345.8V360.2M149.6,345.8V361.6M150.3,345.7V360.2M151.1,345.4V360.4M151.9,345.8V361.3M153.0,345.0V361.2M153.5,345.8V360.2M154.1,343.6V361.6M155.1,345.4V360.1M155.9,346.0V361.6M156.6,345.8V362.0M157.2,344.2V360.3" stroke="#111" stroke-width="0.7" fill="none"/>
<rect x="162.60" y="346.00" width="40.50" height="14.00" fill="#000" />
<path d="M162.9,345.9V361.6M163.6,345.7V360.7M164.5,345.8V360.1M165.3,346.0V361.4M166.0,345.9V360.3M166.6,345.7V360.5M167.4,345.7V360.2M168.2,344.9V360.4M169.1,345.5V360.1M169.7,344.7V360.5M170.4,345.5V361.3M171.2,345.7V360.3M171.7,345.4V360.5M172.5,345.6V360.4M173.4,345.9V362.8M174.0,344.6V360.1M174.9,345.8V360.1M175.8,344.7V361.3M176.8,343.3V360.0M177.5,345.9V361.0M178.3,345.0V361.1M179.4,345.2V361.5M180.2,345.9V361.6M180.8,345.9V361.2M181.4,345.2V360.0M182.1,345.1V360.0M182.9,344.1V360.2M183.8,345.0V360.7M184.8,345.2V360.0M185.4,345.5V362.5M186.0,345.4V360.1M187.0,345.6V360.5M187.9,345.9V360.9M188.9,344.6V360.2M189.5,345.9V361.6M190.3,345.7V360.5M191.2,345.7V360.3M192.2,345.0V360.2M192.7,344.2V360.9M193.6,345.6V362.2M194.3,345.8V360.1M195.1,345.4V360.3M196.1,345.3V360.4M197.0,345.4V360.7M197.8,345.5V360.5M198.8,345.9V361.1M199.5,344.7V360.1M200.3,345.6V360.9M200.9,345.8V360.1M201.7,345.4V360.0M202.3,345.8V362.2" stroke="#111" stroke-width="0.7" fill="none"/>
<rect x="212.30" y="346.00" width="45.30" height="14.00" fill="#000" />
<path d="M212.6,345.4V360.2M213.5,344.8V360.8M214.0,345.6V360.5M214.5,344.9V360.3M215.2,345.3V360.6M216.0,344.6V360.5M216.7,346.0V360.6M217.4,345.5V360.3M217.9,346.0V360.1M218.5,344.7V360.6M219.1,345.1V360.7M219.7,345.0V360.2M220.8,345.9V360.2M221.4,344.6V361.2M222.3,345.9V360.4M223.2,346.0V361.8M224.2,344.1V360.8M225.1,343.4V360.2M225.7,345.9V360.1M226.7,345.9V361.0M227.5,344.5V361.0M228.4,344.7V360.0M229.0,345.7V360.4M229.9,344.5V360.9M231.0,345.2V360.3M231.8,345.0V361.2M232.5,345.7V360.7M233.1,344.5V360.0M234.0,345.5V360.2M234.9,345.6V362.3M235.9,345.4V361.4M236.9,345.9V361.2M237.9,342.7V361.0M238.7,345.8V360.7M239.3,345.0V360.6M240.3,345.7V360.3M241.3,345.2V360.3M242.2,345.6V360.7M243.0,345.8V362.7M244.0,345.0V360.2M244.6,345.1V361.2M245.5,345.8V360.9M246.3,345.7V360.6M247.1,345.3V361.0M248.2,345.9V360.6M249.3,345.3V360.6M250.3,346.0V361.1M251.2,345.4V360.3M252.0,345.9V360.5M252.7,344.1V361.1M253.5,345.0V360.3M254.3,345.9V361.4M255.2,345.0V360.1M256.2,346.0V360.6M257.0,346.0V360.4" stroke="#111" stroke-width="0.7" fill="none"/>
<rect x="261.80" y="346.00" width="44.50" height="14.00" fill="#000" />
<path d="M262.1,345.3V360.3M263.1,345.7V361.6M263.8,345.9V362.5M264.4,345.8V361.0M264.9,345.5V361.4M265.8,345.7V361.0M266.8,345.4V360.7M267.5,345.6V363.4M268.6,346.0V360.2M269.2,344.9V360.2M269.8,345.0V360.1M270.9,345.6V361.6M271.9,345.8V361.1M272.6,345.8V360.0M273.6,345.4V360.3M274.6,345.8V360.4M275.1,345.7V361.5M275.9,345.9V360.2M276.8,345.8V361.5M277.3,344.6V360.7M278.3,345.7V360.1M278.9,345.3V360.0M279.5,344.9V361.5M280.5,344.7V360.6M281.5,345.2V360.6M282.3,346.0V360.1M282.9,345.6V360.1M284.0,345.4V360.9M285.1,345.8V361.5M286.1,345.8V360.1M287.1,344.5V361.1M287.9,345.4V360.1M288.5,345.6V361.0M289.0,344.2V360.0M290.1,345.8V361.2M291.1,343.8V360.4M292.0,345.8V361.3M292.6,344.5V360.6M293.1,344.0V360.3M293.7,345.8V360.0M294.4,345.1V363.1M295.2,344.7V361.2M296.2,345.7V360.2M296.8,345.4V360.2M297.7,345.7V360.6M298.5,345.3V360.1M299.2,345.2V360.2M300.1,343.7V360.3M301.2,345.3V362.0M302.0,345.0V360.8M302.6,345.5V360.6M303.4,345.2V361.7M304.3,344.8V360.1M305.3,345.3V362.0M305.8,345.9V362.6" stroke="#111" stroke-width="0.7" fill="none"/>
<line x1="114.40" y1="280.00" x2="114.40" y2="348.00" stroke="#1e1e1e" stroke-width="1.2" />
<line x1="126.40" y1="280.00" x2="126.40" y2="348.00" stroke="#1e1e1e" stroke-width="1.2" />
<line x1="137.90" y1="281.00" x2="137.90" y2="348.00" stroke="#1e1e1e" stroke-width="1.2" />
<line x1="149.30" y1="284.40" x2="149.30" y2="348.00" stroke="#1e1e1e" stroke-width="1.2" />
<line x1="120.60" y1="358.00" x2="120.60" y2="397.50" stroke="#1e1e1e" stroke-width="1.2" />
<line x1="121.00" y1="338.00" x2="121.00" y2="348.00" stroke="#2a2a2a" stroke-width="1.1" />
<line x1="132.20" y1="358.00" x2="132.20" y2="397.50" stroke="#1e1e1e" stroke-width="1.2" />
<line x1="132.60" y1="338.00" x2="132.60" y2="348.00" stroke="#2a2a2a" stroke-width="1.1" />
<line x1="143.70" y1="358.00" x2="143.70" y2="396.60" stroke="#1e1e1e" stroke-width="1.2" />
<line x1="144.10" y1="338.00" x2="144.10" y2="348.00" stroke="#2a2a2a" stroke-width="1.1" />
<line x1="155.50" y1="358.00" x2="155.50" y2="395.20" stroke="#1e1e1e" stroke-width="1.2" />
<line x1="155.90" y1="338.00" x2="155.90" y2="348.00" stroke="#2a2a2a" stroke-width="1.1" />
<line x1="163.40" y1="267.30" x2="163.40" y2="348.00" stroke="#1e1e1e" stroke-width="1.2" />
<line x1="166.40" y1="358.00" x2="166.40" y2="407.91" stroke="#1e1e1e" stroke-width="1.2" />
<line x1="166.70" y1="337.00" x2="166.70" y2="348.00" stroke="#2a2a2a" stroke-width="1.1" />
<line x1="168.44" y1="265.20" x2="168.44" y2="348.00" stroke="#1e1e1e" stroke-width="1.2" />
<line x1="171.44" y1="358.00" x2="171.44" y2="407.68" stroke="#1e1e1e" stroke-width="1.2" />
<line x1="171.74" y1="337.00" x2="171.74" y2="348.00" stroke="#2a2a2a" stroke-width="1.1" />
<line x1="173.48" y1="264.10" x2="173.48" y2="348.00" stroke="#1e1e1e" stroke-width="1.2" />
<line x1="176.48" y1="358.00" x2="176.48" y2="407.30" stroke="#1e1e1e" stroke-width="1.2" />
<line x1="176.78" y1="337.00" x2="176.78" y2="348.00" stroke="#2a2a2a" stroke-width="1.1" />
<line x1="178.52" y1="265.20" x2="178.52" y2="348.00" stroke="#1e1e1e" stroke-width="1.2" />
<line x1="181.52" y1="358.00" x2="181.52" y2="407.38" stroke="#1e1e1e" stroke-width="1.2" />
<line x1="181.82" y1="337.00" x2="181.82" y2="348.00" stroke="#2a2a2a" stroke-width="1.1" />
<line x1="183.56" y1="265.20" x2="183.56" y2="348.00" stroke="#1e1e1e" stroke-width="1.2" />
<line x1="186.56" y1="358.00" x2="186.56" y2="407.62" stroke="#1e1e1e" stroke-width="1.2" />
<line x1="186.86" y1="337.00" x2="186.86" y2="348.00" stroke="#2a2a2a" stroke-width="1.1" />
<line x1="188.60" y1="265.20" x2="188.60" y2="348.00" stroke="#1e1e1e" stroke-width="1.2" />
<line x1="191.60" y1="358.00" x2="191.60" y2="408.47" stroke="#1e1e1e" stroke-width="1.2" />
<line x1="191.90" y1="337.00" x2="191.90" y2="348.00" stroke="#2a2a2a" stroke-width="1.1" />
<line x1="193.64" y1="266.40" x2="193.64" y2="348.00" stroke="#1e1e1e" stroke-width="1.2" />
<line x1="196.64" y1="358.00" x2="196.64" y2="407.57" stroke="#1e1e1e" stroke-width="1.2" />
<line x1="196.94" y1="337.00" x2="196.94" y2="348.00" stroke="#2a2a2a" stroke-width="1.1" />
<line x1="198.68" y1="264.60" x2="198.68" y2="348.00" stroke="#1e1e1e" stroke-width="1.2" />
<line x1="201.68" y1="358.00" x2="201.68" y2="408.08" stroke="#1e1e1e" stroke-width="1.2" />
<line x1="201.98" y1="337.00" x2="201.98" y2="348.00" stroke="#2a2a2a" stroke-width="1.1" />
<line x1="212.70" y1="261.00" x2="212.70" y2="348.00" stroke="#1e1e1e" stroke-width="1.2" />
<line x1="216.70" y1="265.10" x2="216.70" y2="348.00" stroke="#1e1e1e" stroke-width="1.2" />
<line x1="220.50" y1="264.30" x2="220.50" y2="348.00" stroke="#1e1e1e" stroke-width="1.2" />
<line x1="224.30" y1="263.00" x2="224.30" y2="348.00" stroke="#1e1e1e" stroke-width="1.2" />
<line x1="228.30" y1="261.30" x2="228.30" y2="348.00" stroke="#1e1e1e" stroke-width="1.2" />
<line x1="232.40" y1="257.90" x2="232.40" y2="348.00" stroke="#1e1e1e" stroke-width="1.2" />
<line x1="236.50" y1="256.90" x2="236.50" y2="348.00" stroke="#1e1e1e" stroke-width="1.2" />
<line x1="240.50" y1="256.00" x2="240.50" y2="348.00" stroke="#1e1e1e" stroke-width="1.2" />
<line x1="244.40" y1="258.10" x2="244.40" y2="348.00" stroke="#1e1e1e" stroke-width="1.2" />
<line x1="248.50" y1="258.10" x2="248.50" y2="348.00" stroke="#1e1e1e" stroke-width="1.2" />
<line x1="252.40" y1="257.70" x2="252.40" y2="348.00" stroke="#1e1e1e" stroke-width="1.2" />
<line x1="256.40" y1="262.00" x2="256.40" y2="348.00" stroke="#1e1e1e" stroke-width="1.2" />
<line x1="215.00" y1="358.00" x2="215.00" y2="410.50" stroke="#1e1e1e" stroke-width="1.2" />
<line x1="214.70" y1="337.11" x2="214.70" y2="348.00" stroke="#151515" stroke-width="1.7" />
<line x1="218.80" y1="358.00" x2="218.80" y2="408.20" stroke="#1e1e1e" stroke-width="1.2" />
<line x1="218.50" y1="337.92" x2="218.50" y2="348.00" stroke="#151515" stroke-width="1.7" />
<line x1="222.60" y1="358.00" x2="222.60" y2="407.50" stroke="#1e1e1e" stroke-width="1.2" />
<line x1="222.30" y1="337.71" x2="222.30" y2="348.00" stroke="#151515" stroke-width="1.7" />
<line x1="226.40" y1="358.00" x2="226.40" y2="407.90" stroke="#1e1e1e" stroke-width="1.2" />
<line x1="226.10" y1="337.99" x2="226.10" y2="348.00" stroke="#151515" stroke-width="1.7" />
<line x1="230.40" y1="358.00" x2="230.40" y2="408.10" stroke="#1e1e1e" stroke-width="1.2" />
<line x1="230.10" y1="338.26" x2="230.10" y2="348.00" stroke="#151515" stroke-width="1.7" />
<line x1="234.40" y1="358.00" x2="234.40" y2="408.60" stroke="#1e1e1e" stroke-width="1.2" />
<line x1="234.10" y1="336.66" x2="234.10" y2="348.00" stroke="#151515" stroke-width="1.7" />
<line x1="238.40" y1="358.00" x2="238.40" y2="408.60" stroke="#1e1e1e" stroke-width="1.2" />
<line x1="238.10" y1="338.43" x2="238.10" y2="348.00" stroke="#151515" stroke-width="1.7" />
<line x1="242.50" y1="358.00" x2="242.50" y2="410.40" stroke="#1e1e1e" stroke-width="1.2" />
<line x1="242.20" y1="337.72" x2="242.20" y2="348.00" stroke="#151515" stroke-width="1.7" />
<line x1="246.30" y1="358.00" x2="246.30" y2="409.40" stroke="#1e1e1e" stroke-width="1.2" />
<line x1="246.00" y1="337.02" x2="246.00" y2="348.00" stroke="#151515" stroke-width="1.7" />
<line x1="250.40" y1="358.00" x2="250.40" y2="409.90" stroke="#1e1e1e" stroke-width="1.2" />
<line x1="250.10" y1="337.43" x2="250.10" y2="348.00" stroke="#151515" stroke-width="1.7" />
<line x1="254.30" y1="358.00" x2="254.30" y2="411.30" stroke="#1e1e1e" stroke-width="1.2" />
<line x1="254.00" y1="336.69" x2="254.00" y2="348.00" stroke="#151515" stroke-width="1.7" />
<line x1="262.90" y1="267.20" x2="262.90" y2="348.00" stroke="#1e1e1e" stroke-width="1.2" />
<line x1="266.40" y1="262.60" x2="266.40" y2="348.00" stroke="#1e1e1e" stroke-width="1.2" />
<line x1="269.40" y1="263.00" x2="269.40" y2="348.00" stroke="#1e1e1e" stroke-width="1.2" />
<line x1="272.40" y1="263.00" x2="272.40" y2="348.00" stroke="#1e1e1e" stroke-width="1.2" />
<line x1="276.00" y1="261.20" x2="276.00" y2="348.00" stroke="#1e1e1e" stroke-width="1.2" />
<line x1="279.50" y1="263.40" x2="279.50" y2="348.00" stroke="#1e1e1e" stroke-width="1.2" />
<line x1="282.40" y1="263.00" x2="282.40" y2="348.00" stroke="#1e1e1e" stroke-width="1.2" />
<line x1="285.50" y1="264.00" x2="285.50" y2="348.00" stroke="#1e1e1e" stroke-width="1.2" />
<line x1="289.10" y1="262.20" x2="289.10" y2="348.00" stroke="#1e1e1e" stroke-width="1.2" />
<line x1="292.20" y1="262.60" x2="292.20" y2="348.00" stroke="#1e1e1e" stroke-width="1.2" />
<line x1="295.40" y1="262.20" x2="295.40" y2="348.00" stroke="#1e1e1e" stroke-width="1.2" />
<line x1="298.50" y1="263.00" x2="298.50" y2="348.00" stroke="#1e1e1e" stroke-width="1.2" />
<line x1="301.50" y1="263.40" x2="301.50" y2="348.00" stroke="#1e1e1e" stroke-width="1.2" />
<line x1="304.50" y1="261.50" x2="304.50" y2="348.00" stroke="#1e1e1e" stroke-width="1.2" />
<line x1="264.50" y1="358.00" x2="264.50" y2="405.60" stroke="#1e1e1e" stroke-width="1.2" />
<line x1="264.20" y1="336.46" x2="264.20" y2="348.00" stroke="#151515" stroke-width="1.7" />
<line x1="267.70" y1="358.00" x2="267.70" y2="406.30" stroke="#1e1e1e" stroke-width="1.2" />
<line x1="267.40" y1="337.68" x2="267.40" y2="348.00" stroke="#151515" stroke-width="1.7" />
<line x1="271.30" y1="358.00" x2="271.30" y2="406.00" stroke="#1e1e1e" stroke-width="1.2" />
<line x1="271.00" y1="337.42" x2="271.00" y2="348.00" stroke="#151515" stroke-width="1.7" />
<line x1="274.30" y1="358.00" x2="274.30" y2="406.30" stroke="#1e1e1e" stroke-width="1.2" />
<line x1="274.00" y1="337.73" x2="274.00" y2="348.00" stroke="#151515" stroke-width="1.7" />
<line x1="277.60" y1="358.00" x2="277.60" y2="406.30" stroke="#1e1e1e" stroke-width="1.2" />
<line x1="277.30" y1="336.32" x2="277.30" y2="348.00" stroke="#151515" stroke-width="1.7" />
<line x1="280.80" y1="358.00" x2="280.80" y2="407.10" stroke="#1e1e1e" stroke-width="1.2" />
<line x1="280.50" y1="336.22" x2="280.50" y2="348.00" stroke="#151515" stroke-width="1.7" />
<line x1="284.20" y1="358.00" x2="284.20" y2="406.70" stroke="#1e1e1e" stroke-width="1.2" />
<line x1="283.90" y1="336.76" x2="283.90" y2="348.00" stroke="#151515" stroke-width="1.7" />
<line x1="287.50" y1="358.00" x2="287.50" y2="407.90" stroke="#1e1e1e" stroke-width="1.2" />
<line x1="287.20" y1="336.99" x2="287.20" y2="348.00" stroke="#151515" stroke-width="1.7" />
<line x1="290.60" y1="358.00" x2="290.60" y2="407.50" stroke="#1e1e1e" stroke-width="1.2" />
<line x1="290.30" y1="337.42" x2="290.30" y2="348.00" stroke="#151515" stroke-width="1.7" />
<line x1="293.80" y1="358.00" x2="293.80" y2="407.50" stroke="#1e1e1e" stroke-width="1.2" />
<line x1="293.50" y1="336.60" x2="293.50" y2="348.00" stroke="#151515" stroke-width="1.7" />
<line x1="297.10" y1="358.00" x2="297.10" y2="406.30" stroke="#1e1e1e" stroke-width="1.2" />
<line x1="296.80" y1="337.47" x2="296.80" y2="348.00" stroke="#151515" stroke-width="1.7" />
<line x1="300.00" y1="358.00" x2="300.00" y2="402.90" stroke="#1e1e1e" stroke-width="1.2" />
<line x1="299.70" y1="337.17" x2="299.70" y2="348.00" stroke="#151515" stroke-width="1.7" />
<line x1="303.30" y1="358.00" x2="303.30" y2="403.70" stroke="#1e1e1e" stroke-width="1.2" />
<line x1="303.00" y1="336.58" x2="303.00" y2="348.00" stroke="#151515" stroke-width="1.7" />
<line x1="306.40" y1="358.00" x2="306.40" y2="403.70" stroke="#1e1e1e" stroke-width="1.2" />
<line x1="306.10" y1="337.58" x2="306.10" y2="348.00" stroke="#151515" stroke-width="1.7" />
<line x1="160.20" y1="235.90" x2="160.20" y2="422.20" stroke="#e62c2e" stroke-width="1.2" />
<line x1="208.20" y1="235.90" x2="208.20" y2="422.20" stroke="#e62c2e" stroke-width="1.2" />
<line x1="259.40" y1="235.90" x2="259.40" y2="422.20" stroke="#e62c2e" stroke-width="1.2" />
<text x="133.50" y="254.10" font-family="&quot;Liberation Serif&quot;, serif" font-size="15.8" font-weight="bold" text-anchor="middle" fill="#000" >1 Hz</text>
<text x="184.15" y="254.10" font-family="&quot;Liberation Serif&quot;, serif" font-size="15.8" font-weight="bold" text-anchor="middle" fill="#000" >2 Hz</text>
<text x="231.30" y="254.10" font-family="&quot;Liberation Serif&quot;, serif" font-size="15.8" font-weight="bold" text-anchor="middle" fill="#000" >3 Hz</text>
<text x="279.30" y="254.10" font-family="&quot;Liberation Serif&quot;, serif" font-size="15.8" font-weight="bold" text-anchor="middle" fill="#000" >4 Hz</text>
<text x="202.50" y="442.00" font-family="&quot;Liberation Serif&quot;, serif" font-size="15.8" font-weight="bold" text-anchor="middle" fill="#000" >Time (s)</text>
<text x="54.60" y="325.20" font-family="&quot;Liberation Serif&quot;, serif" font-size="15.8" font-weight="bold" text-anchor="middle" fill="#000" transform="rotate(-90 54.60 325.20)" >Voltage (V)</text>
<text x="-0.10" y="257.00" font-family="&quot;Liberation Serif&quot;, serif" font-size="27" font-weight="bold" text-anchor="start" fill="#000" >(c)</text>
<line x1="444.50" y1="240.38" x2="444.50" y2="417.60" stroke="#808080" stroke-width="1" />
<line x1="441.10" y1="240.38" x2="444.50" y2="240.38" stroke="#5a5a5a" stroke-width="1" />
<text x="438.90" y="242.68" font-family="&quot;Liberation Sans&quot;, sans-serif" font-size="9" font-weight="bold" text-anchor="end" fill="#000" >6</text>
<line x1="441.10" y1="260.12" x2="444.50" y2="260.12" stroke="#5a5a5a" stroke-width="1" />
<text x="438.90" y="262.42" font-family="&quot;Liberation Sans&quot;, sans-serif" font-size="9" font-weight="bold" text-anchor="end" fill="#000" >4</text>
<line x1="441.10" y1="279.86" x2="444.50" y2="279.86" stroke="#5a5a5a" stroke-width="1" />
<text x="438.90" y="282.16" font-family="&quot;Liberation Sans&quot;, sans-serif" font-size="9" font-weight="bold" text-anchor="end" fill="#000" >2</text>
<line x1="441.10" y1="299.60" x2="444.50" y2="299.60" stroke="#5a5a5a" stroke-width="1" />
<text x="438.90" y="301.90" font-family="&quot;Liberation Sans&quot;, sans-serif" font-size="9" font-weight="bold" text-anchor="end" fill="#000" >0</text>
<line x1="441.10" y1="319.34" x2="444.50" y2="319.34" stroke="#5a5a5a" stroke-width="1" />
<text x="438.90" y="321.64" font-family="&quot;Liberation Sans&quot;, sans-serif" font-size="9" font-weight="bold" text-anchor="end" fill="#000" >-2</text>
<line x1="441.10" y1="339.08" x2="444.50" y2="339.08" stroke="#5a5a5a" stroke-width="1" />
<text x="438.90" y="341.38" font-family="&quot;Liberation Sans&quot;, sans-serif" font-size="9" font-weight="bold" text-anchor="end" fill="#000" >-4</text>
<line x1="441.10" y1="358.82" x2="444.50" y2="358.82" stroke="#5a5a5a" stroke-width="1" />
<text x="438.90" y="361.12" font-family="&quot;Liberation Sans&quot;, sans-serif" font-size="9" font-weight="bold" text-anchor="end" fill="#000" >-6</text>
<line x1="441.10" y1="378.56" x2="444.50" y2="378.56" stroke="#5a5a5a" stroke-width="1" />
<text x="438.90" y="380.86" font-family="&quot;Liberation Sans&quot;, sans-serif" font-size="9" font-weight="bold" text-anchor="end" fill="#000" >-8</text>
<line x1="441.10" y1="398.30" x2="444.50" y2="398.30" stroke="#5a5a5a" stroke-width="1" />
<text x="438.90" y="400.60" font-family="&quot;Liberation Sans&quot;, sans-serif" font-size="9" font-weight="bold" text-anchor="end" fill="#000" >-10</text>
<line x1="441.10" y1="418.04" x2="444.50" y2="418.04" stroke="#5a5a5a" stroke-width="1" />
<text x="438.90" y="420.34" font-family="&quot;Liberation Sans&quot;, sans-serif" font-size="9" font-weight="bold" text-anchor="end" fill="#000" >-12</text>
<line x1="442.70" y1="250.25" x2="444.50" y2="250.25" stroke="#808080" stroke-width="1" />
<line x1="442.70" y1="269.99" x2="444.50" y2="269.99" stroke="#808080" stroke-width="1" />
<line x1="442.70" y1="289.73" x2="444.50" y2="289.73" stroke="#808080" stroke-width="1" />
<line x1="442.70" y1="309.47" x2="444.50" y2="309.47" stroke="#808080" stroke-width="1" />
<line x1="442.70" y1="329.21" x2="444.50" y2="329.21" stroke="#808080" stroke-width="1" />
<line x1="442.70" y1="348.95" x2="444.50" y2="348.95" stroke="#808080" stroke-width="1" />
<line x1="442.70" y1="368.69" x2="444.50" y2="368.69" stroke="#808080" stroke-width="1" />
<line x1="442.70" y1="388.43" x2="444.50" y2="388.43" stroke="#808080" stroke-width="1" />
<line x1="442.70" y1="408.17" x2="444.50" y2="408.17" stroke="#808080" stroke-width="1" />
<line x1="444.50" y1="417.60" x2="683.90" y2="417.60" stroke="#808080" stroke-width="1" />
<rect x="468.40" y="297.80" width="43.60" height="9.10" fill="#000" />
<path d="M468.7,297.7V307.5M469.3,297.8V307.4M470.1,297.1V307.2M471.2,296.7V307.0M471.7,295.5V307.3M472.2,297.7V307.7M472.9,297.5V307.7M473.6,297.1V309.0M474.5,297.1V307.6M475.2,297.1V307.6M476.1,297.3V307.9M476.7,296.9V309.6M477.2,297.6V309.9M477.8,296.6V307.5M478.3,297.1V306.9M479.3,297.5V308.7M480.4,297.7V307.3M481.0,296.8V307.0M481.5,297.7V308.3M482.1,297.5V307.3M483.0,297.4V309.0M483.7,297.3V308.3M484.3,297.7V308.2M485.0,296.2V308.1M485.7,297.5V307.0M486.8,297.4V307.2M487.4,297.6V308.3M488.0,297.2V307.6M488.8,297.3V307.3M489.4,296.6V308.5M490.2,297.6V308.6M490.8,297.7V307.6M491.8,297.2V307.0M492.9,297.7V307.2M494.0,296.7V307.9M494.6,296.5V307.3M495.1,296.7V308.8M495.6,297.4V308.5M496.3,297.5V308.0M497.1,294.3V308.3M498.1,296.9V307.1M499.0,297.2V307.4M499.8,297.5V307.1M500.9,297.5V307.0M502.0,297.3V307.7M502.7,297.7V307.2M503.7,297.6V308.6M504.3,296.2V307.0M505.1,297.7V307.0M505.9,297.5V307.4M506.6,297.5V307.2M507.6,297.7V307.3M508.6,297.2V307.1M509.7,297.7V307.0M510.2,297.4V308.3M510.9,297.6V308.0M511.4,297.8V307.7" stroke="#111" stroke-width="0.7" fill="none"/>
<rect x="516.20" y="297.80" width="42.70" height="9.10" fill="#000" />
<path d="M516.5,297.3V307.0M517.4,296.5V307.3M518.0,297.1V307.7M518.6,297.6V307.2M519.4,297.6V307.7M520.0,296.2V307.2M520.6,297.7V307.0M521.3,296.3V307.3M522.0,295.6V309.3M523.0,297.6V307.2M523.8,297.6V307.2M524.4,297.6V307.9M525.3,297.4V307.3M526.2,297.0V306.9M527.2,297.4V307.2M528.2,296.8V307.2M528.8,297.4V307.3M529.5,297.7V307.5M530.1,296.8V307.4M530.8,296.6V307.3M531.4,297.6V306.9M532.1,296.1V308.9M533.0,297.7V307.1M533.6,297.5V307.6M534.1,297.3V307.3M535.0,296.6V307.3M535.9,297.6V307.3M536.8,297.8V307.4M537.6,297.7V307.1M538.6,297.5V307.0M539.3,297.3V307.3M540.0,297.5V307.1M540.8,297.2V307.0M541.6,297.5V309.6M542.7,297.7V307.7M543.4,297.7V308.4M544.4,296.7V307.6M545.5,297.2V307.7M546.4,296.4V308.3M547.1,297.6V307.5M548.0,297.5V308.3M549.0,297.0V307.4M549.9,297.6V308.1M550.5,296.2V307.6M551.1,297.7V307.5M551.9,297.0V307.0M552.9,297.4V307.3M553.9,297.1V307.3M554.5,297.4V306.9M555.2,296.6V307.0M555.7,296.5V307.2M556.6,297.2V307.8M557.3,296.8V306.9M558.3,297.5V307.6" stroke="#111" stroke-width="0.7" fill="none"/>
<rect x="564.40" y="297.80" width="43.10" height="9.10" fill="#000" />
<path d="M564.7,296.8V307.2M565.6,297.5V308.2M566.5,297.6V307.9M567.6,297.6V307.0M568.7,295.5V307.0M569.6,295.9V307.1M570.6,297.6V308.0M571.4,297.4V307.0M572.3,297.0V307.1M572.8,297.7V307.1M573.9,296.8V308.5M574.9,297.7V307.2M575.9,296.5V310.2M576.9,296.9V307.9M578.0,297.4V306.9M578.7,297.8V307.1M579.5,297.6V307.1M580.1,297.5V307.4M580.9,295.8V307.0M581.6,297.7V308.8M582.5,297.1V308.1M583.0,296.2V307.2M583.8,297.4V307.9M584.5,297.6V307.1M585.4,297.4V307.0M586.2,297.2V307.2M587.0,296.5V307.6M588.0,297.5V308.3M589.1,297.3V306.9M589.6,296.8V308.3M590.5,297.3V307.4M591.1,297.2V310.4M591.7,297.1V308.2M592.6,297.5V307.1M593.6,296.0V308.4M594.3,296.8V308.1M595.0,296.8V307.2M595.7,297.8V307.8M596.6,297.8V306.9M597.3,297.6V307.8M597.9,297.2V307.5M598.6,296.4V307.3M599.4,297.0V307.3M600.0,295.7V307.9M600.9,297.3V307.6M601.5,297.7V307.5M602.6,297.7V309.7M603.3,294.3V307.9M604.0,297.6V308.4M605.1,296.7V307.5M605.9,296.7V308.1M606.9,297.6V308.1" stroke="#111" stroke-width="0.7" fill="none"/>
<rect x="612.40" y="297.80" width="42.80" height="9.10" fill="#000" />
<path d="M612.7,297.2V306.9M613.3,297.1V307.3M614.4,297.1V307.7M615.0,297.3V307.8M616.0,296.2V307.1M616.8,295.1V307.0M617.3,297.7V307.8M618.0,296.9V308.1M619.0,297.8V307.7M620.0,297.0V308.3M621.0,297.1V308.3M621.8,297.7V307.1M622.9,297.5V307.3M623.9,297.0V308.0M624.7,297.3V307.0M625.3,297.7V307.4M626.1,297.7V307.6M626.7,297.5V306.9M627.5,297.7V308.9M628.2,296.6V307.3M628.9,296.5V307.1M629.7,297.1V310.4M630.6,297.8V307.3M631.7,296.4V307.2M632.3,297.6V307.9M632.9,296.2V307.1M633.8,297.0V307.1M634.6,297.1V307.1M635.4,297.1V309.1M636.1,297.7V307.4M636.9,297.3V308.6M637.6,297.3V307.3M638.2,297.4V307.3M638.9,296.8V309.9M640.0,297.6V307.2M641.1,297.7V307.0M641.6,295.5V307.4M642.4,297.7V308.4M643.5,297.0V308.6M644.3,297.5V307.0M645.0,297.7V307.2M645.5,297.8V308.5M646.5,296.6V307.2M647.3,297.3V308.0M648.0,297.3V307.5M649.0,297.5V306.9M649.7,296.3V307.0M650.6,297.7V307.1M651.5,297.7V307.3M652.3,297.5V307.9M653.3,297.6V307.9M654.3,297.2V307.5" stroke="#111" stroke-width="0.7" fill="none"/>
<line x1="470.80" y1="267.50" x2="470.80" y2="300.00" stroke="#1e1e1e" stroke-width="1.2" />
<line x1="482.10" y1="269.10" x2="482.10" y2="300.00" stroke="#1e1e1e" stroke-width="1.2" />
<line x1="493.40" y1="268.10" x2="493.40" y2="300.00" stroke="#1e1e1e" stroke-width="1.2" />
<line x1="504.70" y1="268.00" x2="504.70" y2="300.00" stroke="#1e1e1e" stroke-width="1.2" />
<line x1="476.20" y1="305.00" x2="476.20" y2="388.20" stroke="#1e1e1e" stroke-width="1.2" />
<line x1="476.60" y1="284.90" x2="476.60" y2="300.00" stroke="#2a2a2a" stroke-width="1.1" />
<line x1="487.50" y1="305.00" x2="487.50" y2="389.50" stroke="#1e1e1e" stroke-width="1.2" />
<line x1="487.90" y1="283.30" x2="487.90" y2="300.00" stroke="#2a2a2a" stroke-width="1.1" />
<line x1="498.80" y1="305.00" x2="498.80" y2="389.50" stroke="#1e1e1e" stroke-width="1.2" />
<line x1="499.20" y1="286.50" x2="499.20" y2="300.00" stroke="#2a2a2a" stroke-width="1.1" />
<line x1="510.50" y1="305.00" x2="510.50" y2="385.40" stroke="#1e1e1e" stroke-width="1.2" />
<line x1="510.90" y1="285.70" x2="510.90" y2="300.00" stroke="#2a2a2a" stroke-width="1.1" />
<line x1="520.40" y1="266.70" x2="520.40" y2="300.00" stroke="#1e1e1e" stroke-width="1.2" />
<line x1="525.50" y1="268.60" x2="525.50" y2="300.00" stroke="#1e1e1e" stroke-width="1.2" />
<line x1="531.40" y1="265.20" x2="531.40" y2="300.00" stroke="#1e1e1e" stroke-width="1.2" />
<line x1="536.40" y1="265.20" x2="536.40" y2="300.00" stroke="#1e1e1e" stroke-width="1.2" />
<line x1="542.20" y1="264.20" x2="542.20" y2="300.00" stroke="#1e1e1e" stroke-width="1.2" />
<line x1="547.70" y1="264.20" x2="547.70" y2="300.00" stroke="#1e1e1e" stroke-width="1.2" />
<line x1="553.60" y1="266.00" x2="553.60" y2="300.00" stroke="#1e1e1e" stroke-width="1.2" />
<line x1="559.50" y1="265.20" x2="559.50" y2="300.00" stroke="#1e1e1e" stroke-width="1.2" />
<line x1="517.40" y1="305.00" x2="517.40" y2="392.20" stroke="#1e1e1e" stroke-width="1.2" />
<line x1="517.40" y1="287.00" x2="517.40" y2="300.00" stroke="#2a2a2a" stroke-width="1.1" />
<line x1="522.70" y1="305.00" x2="522.70" y2="393.00" stroke="#1e1e1e" stroke-width="1.2" />
<line x1="522.70" y1="289.00" x2="522.70" y2="300.00" stroke="#2a2a2a" stroke-width="1.1" />
<line x1="528.30" y1="305.00" x2="528.30" y2="395.90" stroke="#1e1e1e" stroke-width="1.2" />
<line x1="528.30" y1="288.40" x2="528.30" y2="300.00" stroke="#2a2a2a" stroke-width="1.1" />
<line x1="533.80" y1="305.00" x2="533.80" y2="396.20" stroke="#1e1e1e" stroke-width="1.2" />
<line x1="533.80" y1="288.00" x2="533.80" y2="300.00" stroke="#2a2a2a" stroke-width="1.1" />
<line x1="539.20" y1="305.00" x2="539.20" y2="394.60" stroke="#1e1e1e" stroke-width="1.2" />
<line x1="539.20" y1="288.00" x2="539.20" y2="300.00" stroke="#2a2a2a" stroke-width="1.1" />
<line x1="544.80" y1="305.00" x2="544.80" y2="394.30" stroke="#1e1e1e" stroke-width="1.2" />
<line x1="544.80" y1="291.00" x2="544.80" y2="300.00" stroke="#2a2a2a" stroke-width="1.1" />
<line x1="550.80" y1="305.00" x2="550.80" y2="398.70" stroke="#1e1e1e" stroke-width="1.2" />
<line x1="550.80" y1="288.00" x2="550.80" y2="300.00" stroke="#2a2a2a" stroke-width="1.1" />
<line x1="556.40" y1="305.00" x2="556.40" y2="397.90" stroke="#1e1e1e" stroke-width="1.2" />
<line x1="556.40" y1="288.00" x2="556.40" y2="300.00" stroke="#2a2a2a" stroke-width="1.1" />
<line x1="566.80" y1="266.00" x2="566.80" y2="300.00" stroke="#1e1e1e" stroke-width="1.2" />
<line x1="570.60" y1="265.20" x2="570.60" y2="300.00" stroke="#1e1e1e" stroke-width="1.2" />
<line x1="574.00" y1="266.00" x2="574.00" y2="300.00" stroke="#1e1e1e" stroke-width="1.2" />
<line x1="577.60" y1="265.50" x2="577.60" y2="300.00" stroke="#1e1e1e" stroke-width="1.2" />
<line x1="581.40" y1="266.00" x2="581.40" y2="300.00" stroke="#1e1e1e" stroke-width="1.2" />
<line x1="584.70" y1="267.00" x2="584.70" y2="300.00" stroke="#1e1e1e" stroke-width="1.2" />
<line x1="588.30" y1="266.40" x2="588.30" y2="300.00" stroke="#1e1e1e" stroke-width="1.2" />
<line x1="592.00" y1="267.00" x2="592.00" y2="300.00" stroke="#1e1e1e" stroke-width="1.2" />
<line x1="595.50" y1="267.70" x2="595.50" y2="300.00" stroke="#1e1e1e" stroke-width="1.2" />
<line x1="599.30" y1="267.70" x2="599.30" y2="300.00" stroke="#1e1e1e" stroke-width="1.2" />
<line x1="602.90" y1="268.00" x2="602.90" y2="300.00" stroke="#1e1e1e" stroke-width="1.2" />
<line x1="606.90" y1="269.30" x2="606.90" y2="300.00" stroke="#1e1e1e" stroke-width="1.2" />
<line x1="565.50" y1="305.00" x2="565.50" y2="393.90" stroke="#1e1e1e" stroke-width="1.2" />
<line x1="565.50" y1="295.00" x2="565.50" y2="300.00" stroke="#444" stroke-width="1.2" />
<line x1="568.50" y1="305.00" x2="568.50" y2="396.20" stroke="#1e1e1e" stroke-width="1.2" />
<line x1="568.50" y1="291.00" x2="568.50" y2="300.00" stroke="#444" stroke-width="1.2" />
<line x1="572.10" y1="305.00" x2="572.10" y2="394.40" stroke="#1e1e1e" stroke-width="1.2" />
<line x1="572.10" y1="291.00" x2="572.10" y2="300.00" stroke="#444" stroke-width="1.2" />
<line x1="575.70" y1="305.00" x2="575.70" y2="393.20" stroke="#1e1e1e" stroke-width="1.2" />
<line x1="575.70" y1="283.00" x2="575.70" y2="300.00" stroke="#444" stroke-width="1.2" />
<line x1="579.40" y1="305.00" x2="579.40" y2="399.20" stroke="#1e1e1e" stroke-width="1.2" />
<line x1="579.40" y1="287.00" x2="579.40" y2="300.00" stroke="#444" stroke-width="1.2" />
<line x1="582.80" y1="305.00" x2="582.80" y2="399.20" stroke="#1e1e1e" stroke-width="1.2" />
<line x1="582.80" y1="288.00" x2="582.80" y2="300.00" stroke="#444" stroke-width="1.2" />
<line x1="586.40" y1="305.00" x2="586.40" y2="396.60" stroke="#1e1e1e" stroke-width="1.2" />
<line x1="586.40" y1="287.00" x2="586.40" y2="300.00" stroke="#444" stroke-width="1.2" />
<line x1="590.20" y1="305.00" x2="590.20" y2="394.10" stroke="#1e1e1e" stroke-width="1.2" />
<line x1="590.20" y1="286.00" x2="590.20" y2="300.00" stroke="#444" stroke-width="1.2" />
<line x1="593.60" y1="305.00" x2="593.60" y2="392.60" stroke="#1e1e1e" stroke-width="1.2" />
<line x1="593.60" y1="288.50" x2="593.60" y2="300.00" stroke="#444" stroke-width="1.2" />
<line x1="597.40" y1="305.00" x2="597.40" y2="393.50" stroke="#1e1e1e" stroke-width="1.2" />
<line x1="597.40" y1="287.00" x2="597.40" y2="300.00" stroke="#444" stroke-width="1.2" />
<line x1="601.00" y1="305.00" x2="601.00" y2="393.20" stroke="#1e1e1e" stroke-width="1.2" />
<line x1="601.00" y1="289.00" x2="601.00" y2="300.00" stroke="#444" stroke-width="1.2" />
<line x1="604.90" y1="305.00" x2="604.90" y2="395.10" stroke="#1e1e1e" stroke-width="1.2" />
<line x1="604.90" y1="289.00" x2="604.90" y2="300.00" stroke="#444" stroke-width="1.2" />
<line x1="614.50" y1="266.00" x2="614.50" y2="300.00" stroke="#1e1e1e" stroke-width="1.2" />
<line x1="616.50" y1="268.30" x2="616.50" y2="300.00" stroke="#1e1e1e" stroke-width="1.2" />
<line x1="619.40" y1="267.50" x2="619.40" y2="300.00" stroke="#1e1e1e" stroke-width="1.2" />
<line x1="621.70" y1="262.20" x2="621.70" y2="300.00" stroke="#1e1e1e" stroke-width="1.2" />
<line x1="624.60" y1="262.90" x2="624.60" y2="300.00" stroke="#1e1e1e" stroke-width="1.2" />
<line x1="627.40" y1="264.80" x2="627.40" y2="300.00" stroke="#1e1e1e" stroke-width="1.2" />
<line x1="630.20" y1="265.60" x2="630.20" y2="300.00" stroke="#1e1e1e" stroke-width="1.2" />
<line x1="632.90" y1="265.20" x2="632.90" y2="300.00" stroke="#1e1e1e" stroke-width="1.2" />
<line x1="635.70" y1="266.00" x2="635.70" y2="300.00" stroke="#1e1e1e" stroke-width="1.2" />
<line x1="638.50" y1="266.00" x2="638.50" y2="300.00" stroke="#1e1e1e" stroke-width="1.2" />
<line x1="641.40" y1="266.00" x2="641.40" y2="300.00" stroke="#1e1e1e" stroke-width="1.2" />
<line x1="644.40" y1="266.70" x2="644.40" y2="300.00" stroke="#1e1e1e" stroke-width="1.2" />
<line x1="647.30" y1="267.50" x2="647.30" y2="300.00" stroke="#1e1e1e" stroke-width="1.2" />
<line x1="650.40" y1="267.10" x2="650.40" y2="300.00" stroke="#1e1e1e" stroke-width="1.2" />
<line x1="653.40" y1="267.50" x2="653.40" y2="300.00" stroke="#1e1e1e" stroke-width="1.2" />
<line x1="612.60" y1="305.00" x2="612.60" y2="404.50" stroke="#1e1e1e" stroke-width="1.2" />
<line x1="612.60" y1="276.00" x2="612.60" y2="300.00" stroke="#555" stroke-width="1.4" />
<line x1="615.40" y1="305.00" x2="615.40" y2="403.40" stroke="#1e1e1e" stroke-width="1.2" />
<line x1="615.40" y1="280.00" x2="615.40" y2="300.00" stroke="#555" stroke-width="1.4" />
<line x1="617.70" y1="305.00" x2="617.70" y2="396.60" stroke="#1e1e1e" stroke-width="1.2" />
<line x1="617.70" y1="276.00" x2="617.70" y2="300.00" stroke="#555" stroke-width="1.4" />
<line x1="620.30" y1="305.00" x2="620.30" y2="405.30" stroke="#1e1e1e" stroke-width="1.2" />
<line x1="620.30" y1="292.00" x2="620.30" y2="300.00" stroke="#555" stroke-width="1.4" />
<line x1="623.20" y1="305.00" x2="623.20" y2="408.30" stroke="#1e1e1e" stroke-width="1.2" />
<line x1="623.20" y1="289.00" x2="623.20" y2="300.00" stroke="#555" stroke-width="1.4" />
<line x1="625.80" y1="305.00" x2="625.80" y2="397.30" stroke="#1e1e1e" stroke-width="1.2" />
<line x1="625.80" y1="283.50" x2="625.80" y2="300.00" stroke="#555" stroke-width="1.4" />
<line x1="628.50" y1="305.00" x2="628.50" y2="405.50" stroke="#1e1e1e" stroke-width="1.2" />
<line x1="628.50" y1="281.00" x2="628.50" y2="300.00" stroke="#555" stroke-width="1.4" />
<line x1="631.40" y1="305.00" x2="631.40" y2="396.60" stroke="#1e1e1e" stroke-width="1.2" />
<line x1="631.40" y1="281.60" x2="631.40" y2="300.00" stroke="#555" stroke-width="1.4" />
<line x1="634.40" y1="305.00" x2="634.40" y2="399.60" stroke="#1e1e1e" stroke-width="1.2" />
<line x1="634.40" y1="279.70" x2="634.40" y2="300.00" stroke="#555" stroke-width="1.4" />
<line x1="637.10" y1="305.00" x2="637.10" y2="397.30" stroke="#1e1e1e" stroke-width="1.2" />
<line x1="637.10" y1="279.70" x2="637.10" y2="300.00" stroke="#555" stroke-width="1.4" />
<line x1="639.90" y1="305.00" x2="639.90" y2="403.80" stroke="#1e1e1e" stroke-width="1.2" />
<line x1="639.90" y1="285.00" x2="639.90" y2="300.00" stroke="#555" stroke-width="1.4" />
<line x1="642.70" y1="305.00" x2="642.70" y2="405.30" stroke="#1e1e1e" stroke-width="1.2" />
<line x1="642.70" y1="280.50" x2="642.70" y2="300.00" stroke="#555" stroke-width="1.4" />
<line x1="645.60" y1="305.00" x2="645.60" y2="397.30" stroke="#1e1e1e" stroke-width="1.2" />
<line x1="645.60" y1="279.00" x2="645.60" y2="300.00" stroke="#555" stroke-width="1.4" />
<line x1="648.50" y1="305.00" x2="648.50" y2="397.70" stroke="#1e1e1e" stroke-width="1.2" />
<line x1="648.50" y1="275.00" x2="648.50" y2="300.00" stroke="#555" stroke-width="1.4" />
<line x1="651.40" y1="305.00" x2="651.40" y2="404.50" stroke="#1e1e1e" stroke-width="1.2" />
<line x1="651.40" y1="284.00" x2="651.40" y2="300.00" stroke="#555" stroke-width="1.4" />
<line x1="654.50" y1="305.00" x2="654.50" y2="394.70" stroke="#1e1e1e" stroke-width="1.2" />
<line x1="654.50" y1="277.00" x2="654.50" y2="300.00" stroke="#555" stroke-width="1.4" />
<line x1="514.10" y1="240.50" x2="514.10" y2="417.60" stroke="#e62c2e" stroke-width="1.2" />
<line x1="562.20" y1="240.50" x2="562.20" y2="417.60" stroke="#e62c2e" stroke-width="1.2" />
<line x1="609.70" y1="240.50" x2="609.70" y2="417.60" stroke="#e62c2e" stroke-width="1.2" />
<text x="489.90" y="256.70" font-family="&quot;Liberation Serif&quot;, serif" font-size="15.8" font-weight="bold" text-anchor="middle" fill="#000" >1 Hz</text>
<text x="538.90" y="256.70" font-family="&quot;Liberation Serif&quot;, serif" font-size="15.8" font-weight="bold" text-anchor="middle" fill="#000" >2 Hz</text>
<text x="587.55" y="255.80" font-family="&quot;Liberation Serif&quot;, serif" font-size="15.8" font-weight="bold" text-anchor="middle" fill="#000" >3 Hz</text>
<text x="635.75" y="255.80" font-family="&quot;Liberation Serif&quot;, serif" font-size="15.8" font-weight="bold" text-anchor="middle" fill="#000" >4 Hz</text>
<text x="563.80" y="440.50" font-family="&quot;Liberation Serif&quot;, serif" font-size="15.8" font-weight="bold" text-anchor="middle" fill="#000" >Time (s)</text>
<text x="418.00" y="328.30" font-family="&quot;Liberation Serif&quot;, serif" font-size="16.3" font-weight="bold" text-anchor="middle" fill="#000" transform="rotate(-90 418.00 328.30)" >Current (&#181;A)</text>
<text x="382.60" y="256.80" font-family="&quot;Liberation Serif&quot;, serif" font-size="27" font-weight="bold" text-anchor="start" fill="#000" >(d)</text>
<line x1="77.80" y1="467.40" x2="77.80" y2="641.20" stroke="#333" stroke-width="1" />
<line x1="74.40" y1="467.40" x2="77.80" y2="467.40" stroke="#333" stroke-width="1" />
<text x="72.20" y="470.00" font-family="&quot;Liberation Sans&quot;, sans-serif" font-size="8.5" font-weight="bold" text-anchor="end" fill="#000" >500</text>
<line x1="74.40" y1="499.00" x2="77.80" y2="499.00" stroke="#333" stroke-width="1" />
<text x="72.20" y="501.60" font-family="&quot;Liberation Sans&quot;, sans-serif" font-size="8.5" font-weight="bold" text-anchor="end" fill="#000" >400</text>
<line x1="74.40" y1="530.60" x2="77.80" y2="530.60" stroke="#333" stroke-width="1" />
<text x="72.20" y="533.20" font-family="&quot;Liberation Sans&quot;, sans-serif" font-size="8.5" font-weight="bold" text-anchor="end" fill="#000" >300</text>
<line x1="74.40" y1="562.20" x2="77.80" y2="562.20" stroke="#333" stroke-width="1" />
<text x="72.20" y="564.80" font-family="&quot;Liberation Sans&quot;, sans-serif" font-size="8.5" font-weight="bold" text-anchor="end" fill="#000" >200</text>
<line x1="74.40" y1="593.80" x2="77.80" y2="593.80" stroke="#333" stroke-width="1" />
<text x="72.20" y="596.40" font-family="&quot;Liberation Sans&quot;, sans-serif" font-size="8.5" font-weight="bold" text-anchor="end" fill="#000" >100</text>
<line x1="74.40" y1="625.40" x2="77.80" y2="625.40" stroke="#333" stroke-width="1" />
<text x="72.20" y="628.00" font-family="&quot;Liberation Sans&quot;, sans-serif" font-size="8.5" font-weight="bold" text-anchor="end" fill="#000" >0</text>
<line x1="76.00" y1="483.20" x2="77.80" y2="483.20" stroke="#333" stroke-width="1" />
<line x1="76.00" y1="514.80" x2="77.80" y2="514.80" stroke="#333" stroke-width="1" />
<line x1="76.00" y1="546.40" x2="77.80" y2="546.40" stroke="#333" stroke-width="1" />
<line x1="76.00" y1="578.00" x2="77.80" y2="578.00" stroke="#333" stroke-width="1" />
<line x1="76.00" y1="609.60" x2="77.80" y2="609.60" stroke="#333" stroke-width="1" />
<line x1="76.00" y1="641.20" x2="77.80" y2="641.20" stroke="#333" stroke-width="1" />
<line x1="312.50" y1="468.55" x2="312.50" y2="641.20" stroke="#0a0af0" stroke-width="1" />
<line x1="312.50" y1="468.55" x2="315.90" y2="468.55" stroke="#0a0af0" stroke-width="1" />
<text x="318.10" y="471.15" font-family="&quot;Liberation Sans&quot;, sans-serif" font-size="8.5" font-weight="bold" text-anchor="start" fill="#0a0af0" >4.5</text>
<line x1="312.50" y1="487.70" x2="315.90" y2="487.70" stroke="#0a0af0" stroke-width="1" />
<text x="318.10" y="490.30" font-family="&quot;Liberation Sans&quot;, sans-serif" font-size="8.5" font-weight="bold" text-anchor="start" fill="#0a0af0" >4.0</text>
<line x1="312.50" y1="506.85" x2="315.90" y2="506.85" stroke="#0a0af0" stroke-width="1" />
<text x="318.10" y="509.45" font-family="&quot;Liberation Sans&quot;, sans-serif" font-size="8.5" font-weight="bold" text-anchor="start" fill="#0a0af0" >3.5</text>
<line x1="312.50" y1="526.00" x2="315.90" y2="526.00" stroke="#0a0af0" stroke-width="1" />
<text x="318.10" y="528.60" font-family="&quot;Liberation Sans&quot;, sans-serif" font-size="8.5" font-weight="bold" text-anchor="start" fill="#0a0af0" >3.0</text>
<line x1="312.50" y1="545.15" x2="315.90" y2="545.15" stroke="#0a0af0" stroke-width="1" />
<text x="318.10" y="547.75" font-family="&quot;Liberation Sans&quot;, sans-serif" font-size="8.5" font-weight="bold" text-anchor="start" fill="#0a0af0" >2.5</text>
<line x1="312.50" y1="564.30" x2="315.90" y2="564.30" stroke="#0a0af0" stroke-width="1" />
<text x="318.10" y="566.90" font-family="&quot;Liberation Sans&quot;, sans-serif" font-size="8.5" font-weight="bold" text-anchor="start" fill="#0a0af0" >2.0</text>
<line x1="312.50" y1="583.45" x2="315.90" y2="583.45" stroke="#0a0af0" stroke-width="1" />
<text x="318.10" y="586.05" font-family="&quot;Liberation Sans&quot;, sans-serif" font-size="8.5" font-weight="bold" text-anchor="start" fill="#0a0af0" >1.5</text>
<line x1="312.50" y1="602.60" x2="315.90" y2="602.60" stroke="#0a0af0" stroke-width="1" />
<text x="318.10" y="605.20" font-family="&quot;Liberation Sans&quot;, sans-serif" font-size="8.5" font-weight="bold" text-anchor="start" fill="#0a0af0" >1.0</text>
<line x1="312.50" y1="621.75" x2="315.90" y2="621.75" stroke="#0a0af0" stroke-width="1" />
<text x="318.10" y="624.35" font-family="&quot;Liberation Sans&quot;, sans-serif" font-size="8.5" font-weight="bold" text-anchor="start" fill="#0a0af0" >0.5</text>
<line x1="312.50" y1="640.90" x2="315.90" y2="640.90" stroke="#0a0af0" stroke-width="1" />
<text x="318.10" y="643.50" font-family="&quot;Liberation Sans&quot;, sans-serif" font-size="8.5" font-weight="bold" text-anchor="start" fill="#0a0af0" >0.0</text>
<line x1="312.50" y1="478.12" x2="314.30" y2="478.12" stroke="#0a0af0" stroke-width="1" />
<line x1="312.50" y1="497.27" x2="314.30" y2="497.27" stroke="#0a0af0" stroke-width="1" />
<line x1="312.50" y1="516.42" x2="314.30" y2="516.42" stroke="#0a0af0" stroke-width="1" />
<line x1="312.50" y1="535.58" x2="314.30" y2="535.58" stroke="#0a0af0" stroke-width="1" />
<line x1="312.50" y1="554.73" x2="314.30" y2="554.73" stroke="#0a0af0" stroke-width="1" />
<line x1="312.50" y1="573.88" x2="314.30" y2="573.88" stroke="#0a0af0" stroke-width="1" />
<line x1="312.50" y1="593.02" x2="314.30" y2="593.02" stroke="#0a0af0" stroke-width="1" />
<line x1="312.50" y1="612.17" x2="314.30" y2="612.17" stroke="#0a0af0" stroke-width="1" />
<line x1="312.50" y1="631.32" x2="314.30" y2="631.32" stroke="#0a0af0" stroke-width="1" />
<line x1="77.80" y1="641.20" x2="312.50" y2="641.20" stroke="#333" stroke-width="1" />
<line x1="93.30" y1="641.20" x2="93.30" y2="644.60" stroke="#333" stroke-width="1" />
<line x1="109.10" y1="641.20" x2="109.10" y2="643.00" stroke="#333" stroke-width="1" />
<line x1="118.35" y1="641.20" x2="118.35" y2="643.00" stroke="#333" stroke-width="1" />
<line x1="124.91" y1="641.20" x2="124.91" y2="643.00" stroke="#333" stroke-width="1" />
<line x1="130.00" y1="641.20" x2="130.00" y2="643.00" stroke="#333" stroke-width="1" />
<line x1="134.15" y1="641.20" x2="134.15" y2="643.00" stroke="#333" stroke-width="1" />
<line x1="137.67" y1="641.20" x2="137.67" y2="643.00" stroke="#333" stroke-width="1" />
<line x1="140.71" y1="641.20" x2="140.71" y2="643.00" stroke="#333" stroke-width="1" />
<line x1="143.40" y1="641.20" x2="143.40" y2="643.00" stroke="#333" stroke-width="1" />
<line x1="145.80" y1="641.20" x2="145.80" y2="644.60" stroke="#333" stroke-width="1" />
<line x1="161.60" y1="641.20" x2="161.60" y2="643.00" stroke="#333" stroke-width="1" />
<line x1="170.85" y1="641.20" x2="170.85" y2="643.00" stroke="#333" stroke-width="1" />
<line x1="177.41" y1="641.20" x2="177.41" y2="643.00" stroke="#333" stroke-width="1" />
<line x1="182.50" y1="641.20" x2="182.50" y2="643.00" stroke="#333" stroke-width="1" />
<line x1="186.65" y1="641.20" x2="186.65" y2="643.00" stroke="#333" stroke-width="1" />
<line x1="190.17" y1="641.20" x2="190.17" y2="643.00" stroke="#333" stroke-width="1" />
<line x1="193.21" y1="641.20" x2="193.21" y2="643.00" stroke="#333" stroke-width="1" />
<line x1="195.90" y1="641.20" x2="195.90" y2="643.00" stroke="#333" stroke-width="1" />
<line x1="198.30" y1="641.20" x2="198.30" y2="644.60" stroke="#333" stroke-width="1" />
<line x1="214.10" y1="641.20" x2="214.10" y2="643.00" stroke="#333" stroke-width="1" />
<line x1="223.35" y1="641.20" x2="223.35" y2="643.00" stroke="#333" stroke-width="1" />
<line x1="229.91" y1="641.20" x2="229.91" y2="643.00" stroke="#333" stroke-width="1" />
<line x1="235.00" y1="641.20" x2="235.00" y2="643.00" stroke="#333" stroke-width="1" />
<line x1="239.15" y1="641.20" x2="239.15" y2="643.00" stroke="#333" stroke-width="1" />
<line x1="242.67" y1="641.20" x2="242.67" y2="643.00" stroke="#333" stroke-width="1" />
<line x1="245.71" y1="641.20" x2="245.71" y2="643.00" stroke="#333" stroke-width="1" />
<line x1="248.40" y1="641.20" x2="248.40" y2="643.00" stroke="#333" stroke-width="1" />
<line x1="250.80" y1="641.20" x2="250.80" y2="644.60" stroke="#333" stroke-width="1" />
<line x1="266.60" y1="641.20" x2="266.60" y2="643.00" stroke="#333" stroke-width="1" />
<line x1="275.85" y1="641.20" x2="275.85" y2="643.00" stroke="#333" stroke-width="1" />
<line x1="282.41" y1="641.20" x2="282.41" y2="643.00" stroke="#333" stroke-width="1" />
<line x1="287.50" y1="641.20" x2="287.50" y2="643.00" stroke="#333" stroke-width="1" />
<line x1="291.65" y1="641.20" x2="291.65" y2="643.00" stroke="#333" stroke-width="1" />
<line x1="295.17" y1="641.20" x2="295.17" y2="643.00" stroke="#333" stroke-width="1" />
<line x1="298.21" y1="641.20" x2="298.21" y2="643.00" stroke="#333" stroke-width="1" />
<line x1="300.90" y1="641.20" x2="300.90" y2="643.00" stroke="#333" stroke-width="1" />
<line x1="303.30" y1="641.20" x2="303.30" y2="644.60" stroke="#333" stroke-width="1" />
<line x1="77.50" y1="641.20" x2="77.50" y2="643.00" stroke="#333" stroke-width="1" />
<line x1="81.65" y1="641.20" x2="81.65" y2="643.00" stroke="#333" stroke-width="1" />
<line x1="85.17" y1="641.20" x2="85.17" y2="643.00" stroke="#333" stroke-width="1" />
<line x1="88.21" y1="641.20" x2="88.21" y2="643.00" stroke="#333" stroke-width="1" />
<line x1="90.90" y1="641.20" x2="90.90" y2="643.00" stroke="#333" stroke-width="1" />
<text x="93.30" y="654.40" font-family="&quot;Liberation Sans&quot;, sans-serif" font-size="8.5" font-weight="bold" text-anchor="middle" fill="#000" >1000000</text>
<text x="145.80" y="654.40" font-family="&quot;Liberation Sans&quot;, sans-serif" font-size="8.5" font-weight="bold" text-anchor="middle" fill="#000" >1E7</text>
<text x="198.30" y="654.40" font-family="&quot;Liberation Sans&quot;, sans-serif" font-size="8.5" font-weight="bold" text-anchor="middle" fill="#000" >1E8</text>
<text x="250.80" y="654.40" font-family="&quot;Liberation Sans&quot;, sans-serif" font-size="8.5" font-weight="bold" text-anchor="middle" fill="#000" >1E9</text>
<text x="303.30" y="654.40" font-family="&quot;Liberation Sans&quot;, sans-serif" font-size="8.5" font-weight="bold" text-anchor="middle" fill="#000" >1E10</text>
<polyline points="92.10,625.40 145.80,625.40 198.30,609.09 223.35,565.99 239.15,546.40 248.40,536.60 275.85,503.74 287.50,501.53 303.30,504.06" fill="none" stroke="#111" stroke-width="1"/>
<polyline points="92.10,500.94 145.80,508.98 198.30,507.83 223.35,504.77 239.15,533.11 248.40,539.24 275.85,582.90 287.50,605.12 303.30,622.35" fill="none" stroke="#0a0af0" stroke-width="1"/>
<rect x="89.50" y="622.80" width="5.20" height="5.20" fill="#000" />
<rect x="143.20" y="622.80" width="5.20" height="5.20" fill="#000" />
<rect x="195.70" y="606.49" width="5.20" height="5.20" fill="#000" />
<rect x="220.75" y="563.39" width="5.20" height="5.20" fill="#000" />
<rect x="236.55" y="543.80" width="5.20" height="5.20" fill="#000" />
<rect x="245.80" y="534.00" width="5.20" height="5.20" fill="#000" />
<rect x="273.25" y="501.14" width="5.20" height="5.20" fill="#000" />
<rect x="284.90" y="498.93" width="5.20" height="5.20" fill="#000" />
<rect x="300.70" y="501.46" width="5.20" height="5.20" fill="#000" />
<path d="M92.10,497.34 L95.40,503.24 L88.80,503.24 Z" fill="#0a0af0" stroke="none" stroke-width="1" />
<path d="M145.80,505.38 L149.10,511.28 L142.50,511.28 Z" fill="#0a0af0" stroke="none" stroke-width="1" />
<path d="M198.30,504.23 L201.60,510.13 L195.00,510.13 Z" fill="#0a0af0" stroke="none" stroke-width="1" />
<path d="M223.35,501.17 L226.65,507.07 L220.05,507.07 Z" fill="#0a0af0" stroke="none" stroke-width="1" />
<path d="M239.15,529.51 L242.45,535.41 L235.85,535.41 Z" fill="#0a0af0" stroke="none" stroke-width="1" />
<path d="M248.40,535.64 L251.70,541.54 L245.10,541.54 Z" fill="#0a0af0" stroke="none" stroke-width="1" />
<path d="M275.85,579.30 L279.15,585.20 L272.55,585.20 Z" fill="#0a0af0" stroke="none" stroke-width="1" />
<path d="M287.50,601.51 L290.80,607.41 L284.20,607.41 Z" fill="#0a0af0" stroke="none" stroke-width="1" />
<path d="M303.30,618.75 L306.60,624.65 L300.00,624.65 Z" fill="#0a0af0" stroke="none" stroke-width="1" />
<path d="M166.8,564.8 L174.8,556.8 L174.8,561 L197.2,561 L197.2,568.7 L174.8,568.7 L174.8,572.9 Z" fill="#000" stroke="none" stroke-width="1" />
<path d="M299,565 L291,557 L291,560.8 L268.4,560.8 L268.4,568.7 L291,568.7 L291,573 Z" fill="#0a0af0" stroke="none" stroke-width="1" />
<text x="197.10" y="676.60" font-family="&quot;Liberation Serif&quot;, serif" font-size="15.9" font-weight="bold" text-anchor="middle" fill="#000" >Resistance (&#937;)</text>
<text x="49.80" y="554.60" font-family="&quot;Liberation Serif&quot;, serif" font-size="15.8" font-weight="bold" text-anchor="middle" fill="#000" transform="rotate(-90 49.80 554.60)" >Voltage (V)</text>
<text x="347.10" y="555.00" font-family="&quot;Liberation Serif&quot;, serif" font-size="16.1" font-weight="bold" text-anchor="middle" fill="#000" transform="rotate(-90 347.10 555.00)" >Current (&#181;A)</text>
<text x="-0.10" y="484.80" font-family="&quot;Liberation Serif&quot;, serif" font-size="27" font-weight="bold" text-anchor="start" fill="#000" >(e)</text>
<line x1="446.30" y1="469.20" x2="446.30" y2="643.00" stroke="#333" stroke-width="1" />
<line x1="442.90" y1="469.20" x2="446.30" y2="469.20" stroke="#333" stroke-width="1" />
<text x="440.70" y="471.80" font-family="&quot;Liberation Sans&quot;, sans-serif" font-size="8.5" font-weight="bold" text-anchor="end" fill="#000" >0.40</text>
<line x1="442.90" y1="490.93" x2="446.30" y2="490.93" stroke="#333" stroke-width="1" />
<text x="440.70" y="493.53" font-family="&quot;Liberation Sans&quot;, sans-serif" font-size="8.5" font-weight="bold" text-anchor="end" fill="#000" >0.35</text>
<line x1="442.90" y1="512.65" x2="446.30" y2="512.65" stroke="#333" stroke-width="1" />
<text x="440.70" y="515.25" font-family="&quot;Liberation Sans&quot;, sans-serif" font-size="8.5" font-weight="bold" text-anchor="end" fill="#000" >0.30</text>
<line x1="442.90" y1="534.38" x2="446.30" y2="534.38" stroke="#333" stroke-width="1" />
<text x="440.70" y="536.98" font-family="&quot;Liberation Sans&quot;, sans-serif" font-size="8.5" font-weight="bold" text-anchor="end" fill="#000" >0.25</text>
<line x1="442.90" y1="556.10" x2="446.30" y2="556.10" stroke="#333" stroke-width="1" />
<text x="440.70" y="558.70" font-family="&quot;Liberation Sans&quot;, sans-serif" font-size="8.5" font-weight="bold" text-anchor="end" fill="#000" >0.20</text>
<line x1="442.90" y1="577.83" x2="446.30" y2="577.83" stroke="#333" stroke-width="1" />
<text x="440.70" y="580.43" font-family="&quot;Liberation Sans&quot;, sans-serif" font-size="8.5" font-weight="bold" text-anchor="end" fill="#000" >0.15</text>
<line x1="442.90" y1="599.55" x2="446.30" y2="599.55" stroke="#333" stroke-width="1" />
<text x="440.70" y="602.15" font-family="&quot;Liberation Sans&quot;, sans-serif" font-size="8.5" font-weight="bold" text-anchor="end" fill="#000" >0.10</text>
<line x1="442.90" y1="621.27" x2="446.30" y2="621.27" stroke="#333" stroke-width="1" />
<text x="440.70" y="623.88" font-family="&quot;Liberation Sans&quot;, sans-serif" font-size="8.5" font-weight="bold" text-anchor="end" fill="#000" >0.05</text>
<line x1="442.90" y1="643.00" x2="446.30" y2="643.00" stroke="#333" stroke-width="1" />
<text x="440.70" y="645.60" font-family="&quot;Liberation Sans&quot;, sans-serif" font-size="8.5" font-weight="bold" text-anchor="end" fill="#000" >0.00</text>
<line x1="444.50" y1="480.06" x2="446.30" y2="480.06" stroke="#333" stroke-width="1" />
<line x1="444.50" y1="501.79" x2="446.30" y2="501.79" stroke="#333" stroke-width="1" />
<line x1="444.50" y1="523.51" x2="446.30" y2="523.51" stroke="#333" stroke-width="1" />
<line x1="444.50" y1="545.24" x2="446.30" y2="545.24" stroke="#333" stroke-width="1" />
<line x1="444.50" y1="566.96" x2="446.30" y2="566.96" stroke="#333" stroke-width="1" />
<line x1="444.50" y1="588.69" x2="446.30" y2="588.69" stroke="#333" stroke-width="1" />
<line x1="444.50" y1="610.41" x2="446.30" y2="610.41" stroke="#333" stroke-width="1" />
<line x1="444.50" y1="632.14" x2="446.30" y2="632.14" stroke="#333" stroke-width="1" />
<line x1="446.30" y1="643.00" x2="682.30" y2="643.00" stroke="#333" stroke-width="1" />
<line x1="450.21" y1="643.00" x2="450.21" y2="644.80" stroke="#333" stroke-width="1" />
<line x1="453.74" y1="643.00" x2="453.74" y2="644.80" stroke="#333" stroke-width="1" />
<line x1="456.79" y1="643.00" x2="456.79" y2="644.80" stroke="#333" stroke-width="1" />
<line x1="459.49" y1="643.00" x2="459.49" y2="644.80" stroke="#333" stroke-width="1" />
<line x1="461.90" y1="643.00" x2="461.90" y2="646.40" stroke="#333" stroke-width="1" />
<line x1="477.76" y1="643.00" x2="477.76" y2="644.80" stroke="#333" stroke-width="1" />
<line x1="487.04" y1="643.00" x2="487.04" y2="644.80" stroke="#333" stroke-width="1" />
<line x1="493.63" y1="643.00" x2="493.63" y2="644.80" stroke="#333" stroke-width="1" />
<line x1="498.74" y1="643.00" x2="498.74" y2="644.80" stroke="#333" stroke-width="1" />
<line x1="502.91" y1="643.00" x2="502.91" y2="644.80" stroke="#333" stroke-width="1" />
<line x1="506.44" y1="643.00" x2="506.44" y2="644.80" stroke="#333" stroke-width="1" />
<line x1="509.49" y1="643.00" x2="509.49" y2="644.80" stroke="#333" stroke-width="1" />
<line x1="512.19" y1="643.00" x2="512.19" y2="644.80" stroke="#333" stroke-width="1" />
<line x1="514.60" y1="643.00" x2="514.60" y2="646.40" stroke="#333" stroke-width="1" />
<line x1="530.46" y1="643.00" x2="530.46" y2="644.80" stroke="#333" stroke-width="1" />
<line x1="539.74" y1="643.00" x2="539.74" y2="644.80" stroke="#333" stroke-width="1" />
<line x1="546.33" y1="643.00" x2="546.33" y2="644.80" stroke="#333" stroke-width="1" />
<line x1="551.44" y1="643.00" x2="551.44" y2="644.80" stroke="#333" stroke-width="1" />
<line x1="555.61" y1="643.00" x2="555.61" y2="644.80" stroke="#333" stroke-width="1" />
<line x1="559.14" y1="643.00" x2="559.14" y2="644.80" stroke="#333" stroke-width="1" />
<line x1="562.19" y1="643.00" x2="562.19" y2="644.80" stroke="#333" stroke-width="1" />
<line x1="564.89" y1="643.00" x2="564.89" y2="644.80" stroke="#333" stroke-width="1" />
<line x1="567.30" y1="643.00" x2="567.30" y2="646.40" stroke="#333" stroke-width="1" />
<line x1="583.16" y1="643.00" x2="583.16" y2="644.80" stroke="#333" stroke-width="1" />
<line x1="592.44" y1="643.00" x2="592.44" y2="644.80" stroke="#333" stroke-width="1" />
<line x1="599.03" y1="643.00" x2="599.03" y2="644.80" stroke="#333" stroke-width="1" />
<line x1="604.14" y1="643.00" x2="604.14" y2="644.80" stroke="#333" stroke-width="1" />
<line x1="608.31" y1="643.00" x2="608.31" y2="644.80" stroke="#333" stroke-width="1" />
<line x1="611.84" y1="643.00" x2="611.84" y2="644.80" stroke="#333" stroke-width="1" />
<line x1="614.89" y1="643.00" x2="614.89" y2="644.80" stroke="#333" stroke-width="1" />
<line x1="617.59" y1="643.00" x2="617.59" y2="644.80" stroke="#333" stroke-width="1" />
<line x1="620.00" y1="643.00" x2="620.00" y2="646.40" stroke="#333" stroke-width="1" />
<line x1="635.86" y1="643.00" x2="635.86" y2="644.80" stroke="#333" stroke-width="1" />
<line x1="645.14" y1="643.00" x2="645.14" y2="644.80" stroke="#333" stroke-width="1" />
<line x1="651.73" y1="643.00" x2="651.73" y2="644.80" stroke="#333" stroke-width="1" />
<line x1="656.84" y1="643.00" x2="656.84" y2="644.80" stroke="#333" stroke-width="1" />
<line x1="661.01" y1="643.00" x2="661.01" y2="644.80" stroke="#333" stroke-width="1" />
<line x1="664.54" y1="643.00" x2="664.54" y2="644.80" stroke="#333" stroke-width="1" />
<line x1="667.59" y1="643.00" x2="667.59" y2="644.80" stroke="#333" stroke-width="1" />
<line x1="670.29" y1="643.00" x2="670.29" y2="644.80" stroke="#333" stroke-width="1" />
<line x1="672.70" y1="643.00" x2="672.70" y2="646.40" stroke="#333" stroke-width="1" />
<text x="461.90" y="656.00" font-family="&quot;Liberation Sans&quot;, sans-serif" font-size="8.5" font-weight="bold" text-anchor="middle" fill="#000" >1000000</text>
<text x="514.60" y="656.00" font-family="&quot;Liberation Sans&quot;, sans-serif" font-size="8.5" font-weight="bold" text-anchor="middle" fill="#000" >1E7</text>
<text x="567.30" y="656.00" font-family="&quot;Liberation Sans&quot;, sans-serif" font-size="8.5" font-weight="bold" text-anchor="middle" fill="#000" >1E8</text>
<text x="620.00" y="656.00" font-family="&quot;Liberation Sans&quot;, sans-serif" font-size="8.5" font-weight="bold" text-anchor="middle" fill="#000" >1E9</text>
<text x="672.70" y="656.00" font-family="&quot;Liberation Sans&quot;, sans-serif" font-size="8.5" font-weight="bold" text-anchor="middle" fill="#000" >1E10</text>
<polyline points="461.90,641.70 514.60,641.70 567.30,604.33 592.44,497.01 608.31,490.06 617.59,480.06 645.14,514.82 656.84,562.62 672.70,601.07" fill="none" stroke="#111" stroke-width="1"/>
<rect x="459.40" y="639.20" width="5.00" height="5.00" fill="#000" />
<rect x="512.10" y="639.20" width="5.00" height="5.00" fill="#000" />
<rect x="564.80" y="601.83" width="5.00" height="5.00" fill="#000" />
<rect x="589.94" y="494.51" width="5.00" height="5.00" fill="#000" />
<rect x="605.81" y="487.56" width="5.00" height="5.00" fill="#000" />
<rect x="615.09" y="477.56" width="5.00" height="5.00" fill="#000" />
<rect x="642.64" y="512.32" width="5.00" height="5.00" fill="#000" />
<rect x="654.34" y="560.12" width="5.00" height="5.00" fill="#000" />
<rect x="670.20" y="598.57" width="5.00" height="5.00" fill="#000" />
<text x="563.80" y="674.60" font-family="&quot;Liberation Serif&quot;, serif" font-size="15.9" font-weight="bold" text-anchor="middle" fill="#000" >Resistance (&#937;)</text>
<text x="414.30" y="555.00" font-family="&quot;Liberation Serif&quot;, serif" font-size="15.5" font-weight="bold" text-anchor="middle" fill="#000" transform="rotate(-90 414.30 555.00)" >Power (W/m<tspan font-size="10" dy="-5">2</tspan><tspan dy="5">)</tspan></text>
<text x="382.60" y="479.70" font-family="&quot;Liberation Serif&quot;, serif" font-size="27" font-weight="bold" text-anchor="start" fill="#000" >(f)</text>
<text x="481" y="497.7" font-family="&quot;Liberation Serif&quot;, serif" font-style="italic" font-size="22.5" fill="#111">P</text>
<rect x="502.80" y="488.30" width="13.80" height="1.30" fill="#111" />
<rect x="502.80" y="492.90" width="13.80" height="1.30" fill="#111" />
<text x="523.5" y="497.7" font-family="&quot;Liberation Serif&quot;, serif" font-style="italic" font-size="22.5" fill="#111">V<tspan dx="1.6">I</tspan></text>
</svg>
</body></html>
